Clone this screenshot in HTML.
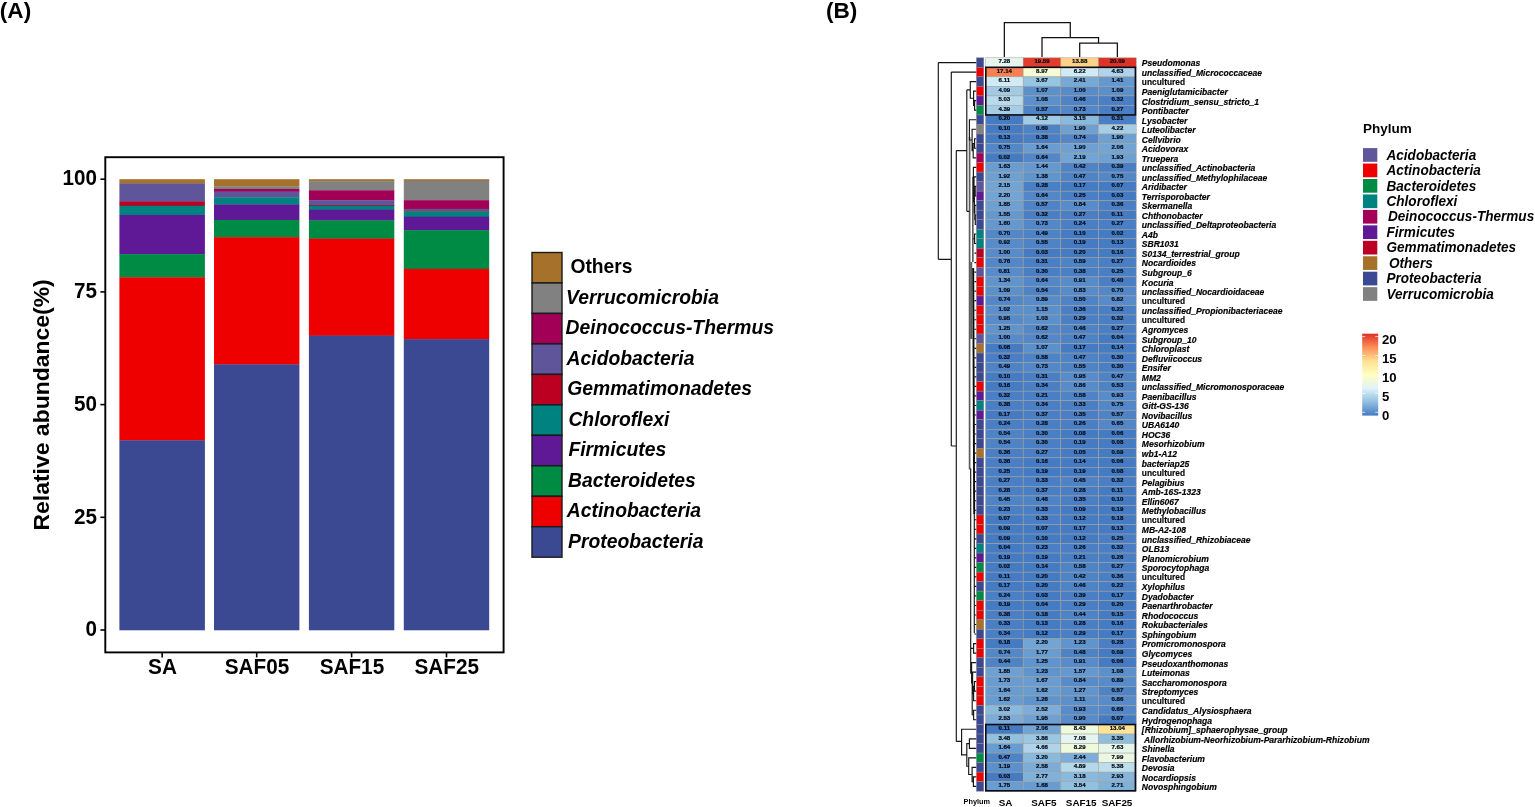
<!DOCTYPE html>
<html lang="en"><head><meta charset="utf-8"><title>Figure</title>
<style>html,body{margin:0;padding:0;background:#fff;}body{width:1535px;height:807px;overflow:hidden;font-family:"Liberation Sans", Arial, Helvetica, sans-serif;}svg{display:block}</style>
</head><body>
<svg width="1535" height="807" viewBox="0 0 1535 807" font-family='"Liberation Sans", Arial, Helvetica, sans-serif' shape-rendering="auto">
<text x="-0.20" y="17.90" font-size="22.6" font-weight="bold" font-style="normal" text-anchor="start" fill="#000" >(A)</text>
<rect x="119.40" y="179.20" width="85.50" height="4.55" fill="#A6712A" />
<rect x="119.40" y="183.45" width="85.50" height="18.35" fill="#5F559B" />
<rect x="119.40" y="201.50" width="85.50" height="4.55" fill="#BB0021" />
<rect x="119.40" y="205.75" width="85.50" height="9.55" fill="#008280" />
<rect x="119.40" y="215.00" width="85.50" height="39.40" fill="#601996" />
<rect x="119.40" y="254.10" width="85.50" height="23.50" fill="#008B45" />
<rect x="119.40" y="277.30" width="85.50" height="163.30" fill="#EE0000" />
<rect x="119.40" y="440.30" width="85.50" height="190.00" fill="#3B4992" />
<rect x="214.00" y="179.20" width="85.40" height="7.50" fill="#A6712A" />
<rect x="214.00" y="186.40" width="85.40" height="2.90" fill="#808180" />
<rect x="214.00" y="189.00" width="85.40" height="2.90" fill="#A20056" />
<rect x="214.00" y="191.60" width="85.40" height="6.10" fill="#5F559B" />
<rect x="214.00" y="197.40" width="85.40" height="7.40" fill="#008280" />
<rect x="214.00" y="204.50" width="85.40" height="15.70" fill="#601996" />
<rect x="214.00" y="219.90" width="85.40" height="17.60" fill="#008B45" />
<rect x="214.00" y="237.20" width="85.40" height="127.50" fill="#EE0000" />
<rect x="214.00" y="364.40" width="85.40" height="265.90" fill="#3B4992" />
<rect x="308.90" y="179.20" width="85.40" height="2.30" fill="#A6712A" />
<rect x="308.90" y="181.20" width="85.40" height="9.40" fill="#808180" />
<rect x="308.90" y="190.30" width="85.40" height="10.20" fill="#A20056" />
<rect x="308.90" y="200.20" width="85.40" height="5.10" fill="#5F559B" />
<rect x="308.90" y="205.00" width="85.40" height="1.05" fill="#BB0021" />
<rect x="308.90" y="205.75" width="85.40" height="4.20" fill="#008280" />
<rect x="308.90" y="209.65" width="85.40" height="11.05" fill="#601996" />
<rect x="308.90" y="220.40" width="85.40" height="18.50" fill="#008B45" />
<rect x="308.90" y="238.60" width="85.40" height="97.30" fill="#EE0000" />
<rect x="308.90" y="335.60" width="85.40" height="294.70" fill="#3B4992" />
<rect x="403.80" y="179.20" width="85.40" height="1.80" fill="#A6712A" />
<rect x="403.80" y="180.70" width="85.40" height="19.80" fill="#808180" />
<rect x="403.80" y="200.20" width="85.40" height="9.00" fill="#A20056" />
<rect x="403.80" y="208.90" width="85.40" height="1.80" fill="#5F559B" />
<rect x="403.80" y="210.40" width="85.40" height="1.00" fill="#BB0021" />
<rect x="403.80" y="211.10" width="85.40" height="5.90" fill="#008280" />
<rect x="403.80" y="216.70" width="85.40" height="13.70" fill="#601996" />
<rect x="403.80" y="230.10" width="85.40" height="39.10" fill="#008B45" />
<rect x="403.80" y="268.90" width="85.40" height="70.50" fill="#EE0000" />
<rect x="403.80" y="339.10" width="85.40" height="291.20" fill="#3B4992" />
<rect x="105.3" y="157.2" width="398.3" height="495.2" fill="none" stroke="#000" stroke-width="1.9"/>
<line x1="100.40" y1="630.00" x2="105.30" y2="630.00" stroke="#000" stroke-width="1.6" />
<text transform="translate(97.00,636.20) scale(0.956,1)" font-size="21.6" font-weight="bold" font-style="normal" text-anchor="end" fill="#000" >0</text>
<line x1="100.40" y1="517.30" x2="105.30" y2="517.30" stroke="#000" stroke-width="1.6" />
<text transform="translate(97.00,523.50) scale(0.956,1)" font-size="21.6" font-weight="bold" font-style="normal" text-anchor="end" fill="#000" >25</text>
<line x1="100.40" y1="404.60" x2="105.30" y2="404.60" stroke="#000" stroke-width="1.6" />
<text transform="translate(97.00,410.80) scale(0.956,1)" font-size="21.6" font-weight="bold" font-style="normal" text-anchor="end" fill="#000" >50</text>
<line x1="100.40" y1="291.90" x2="105.30" y2="291.90" stroke="#000" stroke-width="1.6" />
<text transform="translate(97.00,298.10) scale(0.956,1)" font-size="21.6" font-weight="bold" font-style="normal" text-anchor="end" fill="#000" >75</text>
<line x1="100.40" y1="179.20" x2="105.30" y2="179.20" stroke="#000" stroke-width="1.6" />
<text transform="translate(97.00,185.40) scale(0.956,1)" font-size="21.6" font-weight="bold" font-style="normal" text-anchor="end" fill="#000" >100</text>
<line x1="162.15" y1="652.40" x2="162.15" y2="657.40" stroke="#000" stroke-width="1.6" />
<text transform="translate(162.45,674.40) scale(0.956,1)" font-size="21.7" font-weight="bold" font-style="normal" text-anchor="middle" fill="#000" >SA</text>
<line x1="256.70" y1="652.40" x2="256.70" y2="657.40" stroke="#000" stroke-width="1.6" />
<text transform="translate(257.00,674.40) scale(0.956,1)" font-size="21.7" font-weight="bold" font-style="normal" text-anchor="middle" fill="#000" >SAF05</text>
<line x1="351.60" y1="652.40" x2="351.60" y2="657.40" stroke="#000" stroke-width="1.6" />
<text transform="translate(351.90,674.40) scale(0.956,1)" font-size="21.7" font-weight="bold" font-style="normal" text-anchor="middle" fill="#000" >SAF15</text>
<line x1="446.50" y1="652.40" x2="446.50" y2="657.40" stroke="#000" stroke-width="1.6" />
<text transform="translate(446.80,674.40) scale(0.956,1)" font-size="21.7" font-weight="bold" font-style="normal" text-anchor="middle" fill="#000" >SAF25</text>
<text transform="translate(48.6,404.9) rotate(-90) scale(1.059,1)" font-size="21.7" font-weight="bold" text-anchor="middle" fill="#000">Relative abundance(%)</text>
<rect x="532.0" y="252.50" width="30.0" height="30.47" fill="#A6712A" stroke="#1a1a1a" stroke-width="1.4"/>
<text transform="translate(570.40,273.20) scale(0.945,1)" font-size="20.4" font-weight="bold" font-style="normal" text-anchor="start" fill="#000" >Others</text>
<rect x="532.0" y="282.97" width="30.0" height="30.47" fill="#808180" stroke="#1a1a1a" stroke-width="1.4"/>
<text transform="translate(566.00,303.87) scale(0.962,1)" font-size="20.1" font-weight="bold" font-style="italic" text-anchor="start" fill="#000" >Verrucomicrobia</text>
<rect x="532.0" y="313.44" width="30.0" height="30.47" fill="#A20056" stroke="#1a1a1a" stroke-width="1.4"/>
<text transform="translate(565.60,334.34) scale(0.962,1)" font-size="20.1" font-weight="bold" font-style="italic" text-anchor="start" fill="#000" >Deinococcus-Thermus</text>
<rect x="532.0" y="343.91" width="30.0" height="30.47" fill="#5F559B" stroke="#1a1a1a" stroke-width="1.4"/>
<text transform="translate(566.60,364.81) scale(0.962,1)" font-size="20.1" font-weight="bold" font-style="italic" text-anchor="start" fill="#000" >Acidobacteria</text>
<rect x="532.0" y="374.38" width="30.0" height="30.47" fill="#BB0021" stroke="#1a1a1a" stroke-width="1.4"/>
<text transform="translate(567.20,395.28) scale(0.962,1)" font-size="20.1" font-weight="bold" font-style="italic" text-anchor="start" fill="#000" >Gemmatimonadetes</text>
<rect x="532.0" y="404.85" width="30.0" height="30.47" fill="#008280" stroke="#1a1a1a" stroke-width="1.4"/>
<text transform="translate(568.40,425.75) scale(0.962,1)" font-size="20.1" font-weight="bold" font-style="italic" text-anchor="start" fill="#000" >Chloroflexi</text>
<rect x="532.0" y="435.32" width="30.0" height="30.47" fill="#601996" stroke="#1a1a1a" stroke-width="1.4"/>
<text transform="translate(568.40,456.22) scale(0.962,1)" font-size="20.1" font-weight="bold" font-style="italic" text-anchor="start" fill="#000" >Firmicutes</text>
<rect x="532.0" y="465.79" width="30.0" height="30.47" fill="#008B45" stroke="#1a1a1a" stroke-width="1.4"/>
<text transform="translate(568.00,486.69) scale(0.962,1)" font-size="20.1" font-weight="bold" font-style="italic" text-anchor="start" fill="#000" >Bacteroidetes</text>
<rect x="532.0" y="496.26" width="30.0" height="30.47" fill="#EE0000" stroke="#1a1a1a" stroke-width="1.4"/>
<text transform="translate(566.80,517.16) scale(0.962,1)" font-size="20.1" font-weight="bold" font-style="italic" text-anchor="start" fill="#000" >Actinobacteria</text>
<rect x="532.0" y="526.73" width="30.0" height="30.47" fill="#3B4992" stroke="#1a1a1a" stroke-width="1.4"/>
<text transform="translate(568.00,547.63) scale(0.962,1)" font-size="20.1" font-weight="bold" font-style="italic" text-anchor="start" fill="#000" >Proteobacteria</text>
<text x="825.90" y="17.90" font-size="22.6" font-weight="bold" font-style="normal" text-anchor="start" fill="#000" >(B)</text>
<rect x="976.40" y="57.80" width="7.40" height="9.52" fill="#3B4992" stroke="#8c8c98" stroke-width="0.5"/>
<rect x="985.50" y="57.80" width="37.68" height="9.52" fill="#E6F5EE" stroke="#a6a096" stroke-width="0.5"/>
<rect x="1023.17" y="57.80" width="37.68" height="9.52" fill="#E23C2D" stroke="#a6a096" stroke-width="0.5"/>
<rect x="1060.85" y="57.80" width="37.68" height="9.52" fill="#FED186" stroke="#a6a096" stroke-width="0.5"/>
<rect x="1098.53" y="57.80" width="37.68" height="9.52" fill="#DE3127" stroke="#a6a096" stroke-width="0.5"/>
<text x="1004.34" y="63.26" font-size="6.1" font-weight="bold" font-style="normal" text-anchor="middle" fill="#040c18" stroke="#040c18" stroke-width="0.22">7.28</text>
<text x="1042.01" y="63.26" font-size="6.1" font-weight="bold" font-style="normal" text-anchor="middle" fill="#040c18" stroke="#040c18" stroke-width="0.22">19.59</text>
<text x="1079.69" y="63.26" font-size="6.1" font-weight="bold" font-style="normal" text-anchor="middle" fill="#040c18" stroke="#040c18" stroke-width="0.22">13.88</text>
<text x="1117.36" y="63.26" font-size="6.1" font-weight="bold" font-style="normal" text-anchor="middle" fill="#040c18" stroke="#040c18" stroke-width="0.22">20.09</text>
<text x="1141.80" y="66.46" font-size="8.55" font-weight="bold" font-style="italic" text-anchor="start" fill="#000" stroke="#000" stroke-width="0.18">Pseudomonas</text>
<rect x="976.40" y="67.32" width="7.40" height="9.52" fill="#EE0000" stroke="#8c8c98" stroke-width="0.5"/>
<rect x="985.50" y="67.32" width="37.68" height="9.52" fill="#F77F51" stroke="#a6a096" stroke-width="0.5"/>
<rect x="1023.17" y="67.32" width="37.68" height="9.52" fill="#F5FBD2" stroke="#a6a096" stroke-width="0.5"/>
<rect x="1060.85" y="67.32" width="37.68" height="9.52" fill="#D1EAF3" stroke="#a6a096" stroke-width="0.5"/>
<rect x="1098.53" y="67.32" width="37.68" height="9.52" fill="#B0D3E9" stroke="#a6a096" stroke-width="0.5"/>
<text x="1004.34" y="72.79" font-size="6.1" font-weight="bold" font-style="normal" text-anchor="middle" fill="#040c18" stroke="#040c18" stroke-width="0.22">17.14</text>
<text x="1042.01" y="72.79" font-size="6.1" font-weight="bold" font-style="normal" text-anchor="middle" fill="#040c18" stroke="#040c18" stroke-width="0.22">8.97</text>
<text x="1079.69" y="72.79" font-size="6.1" font-weight="bold" font-style="normal" text-anchor="middle" fill="#040c18" stroke="#040c18" stroke-width="0.22">6.22</text>
<text x="1117.36" y="72.79" font-size="6.1" font-weight="bold" font-style="normal" text-anchor="middle" fill="#040c18" stroke="#040c18" stroke-width="0.22">4.63</text>
<text x="1141.80" y="75.99" font-size="8.55" font-weight="bold" font-style="italic" text-anchor="start" fill="#000" stroke="#000" stroke-width="0.18">unclassified_Micrococcaceae</text>
<rect x="976.40" y="76.85" width="7.40" height="9.52" fill="#3B4992" stroke="#8c8c98" stroke-width="0.5"/>
<rect x="985.50" y="76.85" width="37.68" height="9.52" fill="#D1EAF3" stroke="#a6a096" stroke-width="0.5"/>
<rect x="1023.17" y="76.85" width="37.68" height="9.52" fill="#97C4E1" stroke="#a6a096" stroke-width="0.5"/>
<rect x="1060.85" y="76.85" width="37.68" height="9.52" fill="#77A8D6" stroke="#a6a096" stroke-width="0.5"/>
<rect x="1098.53" y="76.85" width="37.68" height="9.52" fill="#6598CF" stroke="#a6a096" stroke-width="0.5"/>
<text x="1004.34" y="82.31" font-size="6.1" font-weight="bold" font-style="normal" text-anchor="middle" fill="#040c18" stroke="#040c18" stroke-width="0.22">6.11</text>
<text x="1042.01" y="82.31" font-size="6.1" font-weight="bold" font-style="normal" text-anchor="middle" fill="#040c18" stroke="#040c18" stroke-width="0.22">3.67</text>
<text x="1079.69" y="82.31" font-size="6.1" font-weight="bold" font-style="normal" text-anchor="middle" fill="#040c18" stroke="#040c18" stroke-width="0.22">2.41</text>
<text x="1117.36" y="82.31" font-size="6.1" font-weight="bold" font-style="normal" text-anchor="middle" fill="#040c18" stroke="#040c18" stroke-width="0.22">1.41</text>
<text x="1141.80" y="85.21" font-size="8.4" font-weight="bold" font-style="normal" text-anchor="start" fill="#000" stroke="#000" stroke-width="0.12">uncultured</text>
<rect x="976.40" y="86.37" width="7.40" height="9.52" fill="#EE0000" stroke="#8c8c98" stroke-width="0.5"/>
<rect x="985.50" y="86.37" width="37.68" height="9.52" fill="#A1CAE4" stroke="#a6a096" stroke-width="0.5"/>
<rect x="1023.17" y="86.37" width="37.68" height="9.52" fill="#5C90CB" stroke="#a6a096" stroke-width="0.5"/>
<rect x="1060.85" y="86.37" width="37.68" height="9.52" fill="#578BCA" stroke="#a6a096" stroke-width="0.5"/>
<rect x="1098.53" y="86.37" width="37.68" height="9.52" fill="#5C90CB" stroke="#a6a096" stroke-width="0.5"/>
<text x="1004.34" y="91.84" font-size="6.1" font-weight="bold" font-style="normal" text-anchor="middle" fill="#040c18" stroke="#040c18" stroke-width="0.22">4.09</text>
<text x="1042.01" y="91.84" font-size="6.1" font-weight="bold" font-style="normal" text-anchor="middle" fill="#040c18" stroke="#040c18" stroke-width="0.22">1.07</text>
<text x="1079.69" y="91.84" font-size="6.1" font-weight="bold" font-style="normal" text-anchor="middle" fill="#040c18" stroke="#040c18" stroke-width="0.22">1.00</text>
<text x="1117.36" y="91.84" font-size="6.1" font-weight="bold" font-style="normal" text-anchor="middle" fill="#040c18" stroke="#040c18" stroke-width="0.22">1.09</text>
<text x="1141.80" y="95.04" font-size="8.55" font-weight="bold" font-style="italic" text-anchor="start" fill="#000" stroke="#000" stroke-width="0.18">Paeniglutamicibacter</text>
<rect x="976.40" y="95.90" width="7.40" height="9.52" fill="#601996" stroke="#8c8c98" stroke-width="0.5"/>
<rect x="985.50" y="95.90" width="37.68" height="9.52" fill="#B9DAEC" stroke="#a6a096" stroke-width="0.5"/>
<rect x="1023.17" y="95.90" width="37.68" height="9.52" fill="#5C90CB" stroke="#a6a096" stroke-width="0.5"/>
<rect x="1060.85" y="95.90" width="37.68" height="9.52" fill="#4E83C6" stroke="#a6a096" stroke-width="0.5"/>
<rect x="1098.53" y="95.90" width="37.68" height="9.52" fill="#4A7FC5" stroke="#a6a096" stroke-width="0.5"/>
<text x="1004.34" y="101.36" font-size="6.1" font-weight="bold" font-style="normal" text-anchor="middle" fill="#040c18" stroke="#040c18" stroke-width="0.22">5.03</text>
<text x="1042.01" y="101.36" font-size="6.1" font-weight="bold" font-style="normal" text-anchor="middle" fill="#040c18" stroke="#040c18" stroke-width="0.22">1.08</text>
<text x="1079.69" y="101.36" font-size="6.1" font-weight="bold" font-style="normal" text-anchor="middle" fill="#040c18" stroke="#040c18" stroke-width="0.22">0.46</text>
<text x="1117.36" y="101.36" font-size="6.1" font-weight="bold" font-style="normal" text-anchor="middle" fill="#040c18" stroke="#040c18" stroke-width="0.22">0.32</text>
<text x="1141.80" y="104.56" font-size="8.55" font-weight="bold" font-style="italic" text-anchor="start" fill="#000" stroke="#000" stroke-width="0.18">Clostridium_sensu_stricto_1</text>
<rect x="976.40" y="105.42" width="7.40" height="9.52" fill="#008B45" stroke="#8c8c98" stroke-width="0.5"/>
<rect x="985.50" y="105.42" width="37.68" height="9.52" fill="#A6CDE6" stroke="#a6a096" stroke-width="0.5"/>
<rect x="1023.17" y="105.42" width="37.68" height="9.52" fill="#4E83C6" stroke="#a6a096" stroke-width="0.5"/>
<rect x="1060.85" y="105.42" width="37.68" height="9.52" fill="#5387C8" stroke="#a6a096" stroke-width="0.5"/>
<rect x="1098.53" y="105.42" width="37.68" height="9.52" fill="#4A7FC5" stroke="#a6a096" stroke-width="0.5"/>
<text x="1004.34" y="110.89" font-size="6.1" font-weight="bold" font-style="normal" text-anchor="middle" fill="#040c18" stroke="#040c18" stroke-width="0.22">4.39</text>
<text x="1042.01" y="110.89" font-size="6.1" font-weight="bold" font-style="normal" text-anchor="middle" fill="#040c18" stroke="#040c18" stroke-width="0.22">0.57</text>
<text x="1079.69" y="110.89" font-size="6.1" font-weight="bold" font-style="normal" text-anchor="middle" fill="#040c18" stroke="#040c18" stroke-width="0.22">0.73</text>
<text x="1117.36" y="110.89" font-size="6.1" font-weight="bold" font-style="normal" text-anchor="middle" fill="#040c18" stroke="#040c18" stroke-width="0.22">0.27</text>
<text x="1141.80" y="114.09" font-size="8.55" font-weight="bold" font-style="italic" text-anchor="start" fill="#000" stroke="#000" stroke-width="0.18">Pontibacter</text>
<rect x="976.40" y="114.95" width="7.40" height="9.52" fill="#3B4992" stroke="#8c8c98" stroke-width="0.5"/>
<rect x="985.50" y="114.95" width="37.68" height="9.52" fill="#457BC3" stroke="#a6a096" stroke-width="0.5"/>
<rect x="1023.17" y="114.95" width="37.68" height="9.52" fill="#A1CAE4" stroke="#a6a096" stroke-width="0.5"/>
<rect x="1060.85" y="114.95" width="37.68" height="9.52" fill="#89B9DC" stroke="#a6a096" stroke-width="0.5"/>
<rect x="1098.53" y="114.95" width="37.68" height="9.52" fill="#4A7FC5" stroke="#a6a096" stroke-width="0.5"/>
<text x="1004.34" y="120.41" font-size="6.1" font-weight="bold" font-style="normal" text-anchor="middle" fill="#040c18" stroke="#040c18" stroke-width="0.22">0.20</text>
<text x="1042.01" y="120.41" font-size="6.1" font-weight="bold" font-style="normal" text-anchor="middle" fill="#040c18" stroke="#040c18" stroke-width="0.22">4.12</text>
<text x="1079.69" y="120.41" font-size="6.1" font-weight="bold" font-style="normal" text-anchor="middle" fill="#040c18" stroke="#040c18" stroke-width="0.22">3.15</text>
<text x="1117.36" y="120.41" font-size="6.1" font-weight="bold" font-style="normal" text-anchor="middle" fill="#040c18" stroke="#040c18" stroke-width="0.22">0.31</text>
<text x="1141.80" y="123.61" font-size="8.55" font-weight="bold" font-style="italic" text-anchor="start" fill="#000" stroke="#000" stroke-width="0.18">Lysobacter</text>
<rect x="976.40" y="124.47" width="7.40" height="9.52" fill="#808180" stroke="#8c8c98" stroke-width="0.5"/>
<rect x="985.50" y="124.47" width="37.68" height="9.52" fill="#457BC3" stroke="#a6a096" stroke-width="0.5"/>
<rect x="1023.17" y="124.47" width="37.68" height="9.52" fill="#4E83C6" stroke="#a6a096" stroke-width="0.5"/>
<rect x="1060.85" y="124.47" width="37.68" height="9.52" fill="#6EA0D2" stroke="#a6a096" stroke-width="0.5"/>
<rect x="1098.53" y="124.47" width="37.68" height="9.52" fill="#A6CDE6" stroke="#a6a096" stroke-width="0.5"/>
<text x="1004.34" y="129.94" font-size="6.1" font-weight="bold" font-style="normal" text-anchor="middle" fill="#040c18" stroke="#040c18" stroke-width="0.22">0.10</text>
<text x="1042.01" y="129.94" font-size="6.1" font-weight="bold" font-style="normal" text-anchor="middle" fill="#040c18" stroke="#040c18" stroke-width="0.22">0.60</text>
<text x="1079.69" y="129.94" font-size="6.1" font-weight="bold" font-style="normal" text-anchor="middle" fill="#040c18" stroke="#040c18" stroke-width="0.22">1.90</text>
<text x="1117.36" y="129.94" font-size="6.1" font-weight="bold" font-style="normal" text-anchor="middle" fill="#040c18" stroke="#040c18" stroke-width="0.22">4.22</text>
<text x="1141.80" y="133.14" font-size="8.55" font-weight="bold" font-style="italic" text-anchor="start" fill="#000" stroke="#000" stroke-width="0.18">Luteolibacter</text>
<rect x="976.40" y="134.00" width="7.40" height="9.52" fill="#3B4992" stroke="#8c8c98" stroke-width="0.5"/>
<rect x="985.50" y="134.00" width="37.68" height="9.52" fill="#457BC3" stroke="#a6a096" stroke-width="0.5"/>
<rect x="1023.17" y="134.00" width="37.68" height="9.52" fill="#4A7FC5" stroke="#a6a096" stroke-width="0.5"/>
<rect x="1060.85" y="134.00" width="37.68" height="9.52" fill="#5387C8" stroke="#a6a096" stroke-width="0.5"/>
<rect x="1098.53" y="134.00" width="37.68" height="9.52" fill="#6EA0D2" stroke="#a6a096" stroke-width="0.5"/>
<text x="1004.34" y="139.46" font-size="6.1" font-weight="bold" font-style="normal" text-anchor="middle" fill="#040c18" stroke="#040c18" stroke-width="0.22">0.13</text>
<text x="1042.01" y="139.46" font-size="6.1" font-weight="bold" font-style="normal" text-anchor="middle" fill="#040c18" stroke="#040c18" stroke-width="0.22">0.38</text>
<text x="1079.69" y="139.46" font-size="6.1" font-weight="bold" font-style="normal" text-anchor="middle" fill="#040c18" stroke="#040c18" stroke-width="0.22">0.74</text>
<text x="1117.36" y="139.46" font-size="6.1" font-weight="bold" font-style="normal" text-anchor="middle" fill="#040c18" stroke="#040c18" stroke-width="0.22">1.90</text>
<text x="1141.80" y="142.66" font-size="8.55" font-weight="bold" font-style="italic" text-anchor="start" fill="#000" stroke="#000" stroke-width="0.18">Cellvibrio</text>
<rect x="976.40" y="143.52" width="7.40" height="9.52" fill="#3B4992" stroke="#8c8c98" stroke-width="0.5"/>
<rect x="985.50" y="143.52" width="37.68" height="9.52" fill="#5387C8" stroke="#a6a096" stroke-width="0.5"/>
<rect x="1023.17" y="143.52" width="37.68" height="9.52" fill="#699CD1" stroke="#a6a096" stroke-width="0.5"/>
<rect x="1060.85" y="143.52" width="37.68" height="9.52" fill="#6EA0D2" stroke="#a6a096" stroke-width="0.5"/>
<rect x="1098.53" y="143.52" width="37.68" height="9.52" fill="#72A4D4" stroke="#a6a096" stroke-width="0.5"/>
<text x="1004.34" y="148.98" font-size="6.1" font-weight="bold" font-style="normal" text-anchor="middle" fill="#040c18" stroke="#040c18" stroke-width="0.22">0.75</text>
<text x="1042.01" y="148.98" font-size="6.1" font-weight="bold" font-style="normal" text-anchor="middle" fill="#040c18" stroke="#040c18" stroke-width="0.22">1.64</text>
<text x="1079.69" y="148.98" font-size="6.1" font-weight="bold" font-style="normal" text-anchor="middle" fill="#040c18" stroke="#040c18" stroke-width="0.22">1.90</text>
<text x="1117.36" y="148.98" font-size="6.1" font-weight="bold" font-style="normal" text-anchor="middle" fill="#040c18" stroke="#040c18" stroke-width="0.22">2.06</text>
<text x="1141.80" y="152.18" font-size="8.55" font-weight="bold" font-style="italic" text-anchor="start" fill="#000" stroke="#000" stroke-width="0.18">Acidovorax</text>
<rect x="976.40" y="153.05" width="7.40" height="9.52" fill="#A20056" stroke="#8c8c98" stroke-width="0.5"/>
<rect x="985.50" y="153.05" width="37.68" height="9.52" fill="#457BC3" stroke="#a6a096" stroke-width="0.5"/>
<rect x="1023.17" y="153.05" width="37.68" height="9.52" fill="#5387C8" stroke="#a6a096" stroke-width="0.5"/>
<rect x="1060.85" y="153.05" width="37.68" height="9.52" fill="#72A4D4" stroke="#a6a096" stroke-width="0.5"/>
<rect x="1098.53" y="153.05" width="37.68" height="9.52" fill="#6EA0D2" stroke="#a6a096" stroke-width="0.5"/>
<text x="1004.34" y="158.51" font-size="6.1" font-weight="bold" font-style="normal" text-anchor="middle" fill="#040c18" stroke="#040c18" stroke-width="0.22">0.02</text>
<text x="1042.01" y="158.51" font-size="6.1" font-weight="bold" font-style="normal" text-anchor="middle" fill="#040c18" stroke="#040c18" stroke-width="0.22">0.64</text>
<text x="1079.69" y="158.51" font-size="6.1" font-weight="bold" font-style="normal" text-anchor="middle" fill="#040c18" stroke="#040c18" stroke-width="0.22">2.19</text>
<text x="1117.36" y="158.51" font-size="6.1" font-weight="bold" font-style="normal" text-anchor="middle" fill="#040c18" stroke="#040c18" stroke-width="0.22">1.93</text>
<text x="1141.80" y="161.71" font-size="8.55" font-weight="bold" font-style="italic" text-anchor="start" fill="#000" stroke="#000" stroke-width="0.18">Truepera</text>
<rect x="976.40" y="162.57" width="7.40" height="9.52" fill="#EE0000" stroke="#8c8c98" stroke-width="0.5"/>
<rect x="985.50" y="162.57" width="37.68" height="9.52" fill="#699CD1" stroke="#a6a096" stroke-width="0.5"/>
<rect x="1023.17" y="162.57" width="37.68" height="9.52" fill="#6598CF" stroke="#a6a096" stroke-width="0.5"/>
<rect x="1060.85" y="162.57" width="37.68" height="9.52" fill="#4E83C6" stroke="#a6a096" stroke-width="0.5"/>
<rect x="1098.53" y="162.57" width="37.68" height="9.52" fill="#4A7FC5" stroke="#a6a096" stroke-width="0.5"/>
<text x="1004.34" y="168.03" font-size="6.1" font-weight="bold" font-style="normal" text-anchor="middle" fill="#040c18" stroke="#040c18" stroke-width="0.22">1.63</text>
<text x="1042.01" y="168.03" font-size="6.1" font-weight="bold" font-style="normal" text-anchor="middle" fill="#040c18" stroke="#040c18" stroke-width="0.22">1.44</text>
<text x="1079.69" y="168.03" font-size="6.1" font-weight="bold" font-style="normal" text-anchor="middle" fill="#040c18" stroke="#040c18" stroke-width="0.22">0.42</text>
<text x="1117.36" y="168.03" font-size="6.1" font-weight="bold" font-style="normal" text-anchor="middle" fill="#040c18" stroke="#040c18" stroke-width="0.22">0.39</text>
<text x="1141.80" y="171.23" font-size="8.55" font-weight="bold" font-style="italic" text-anchor="start" fill="#000" stroke="#000" stroke-width="0.18">unclassified_Actinobacteria</text>
<rect x="976.40" y="172.10" width="7.40" height="9.52" fill="#3B4992" stroke="#8c8c98" stroke-width="0.5"/>
<rect x="985.50" y="172.10" width="37.68" height="9.52" fill="#6EA0D2" stroke="#a6a096" stroke-width="0.5"/>
<rect x="1023.17" y="172.10" width="37.68" height="9.52" fill="#6094CD" stroke="#a6a096" stroke-width="0.5"/>
<rect x="1060.85" y="172.10" width="37.68" height="9.52" fill="#4E83C6" stroke="#a6a096" stroke-width="0.5"/>
<rect x="1098.53" y="172.10" width="37.68" height="9.52" fill="#5387C8" stroke="#a6a096" stroke-width="0.5"/>
<text x="1004.34" y="177.56" font-size="6.1" font-weight="bold" font-style="normal" text-anchor="middle" fill="#040c18" stroke="#040c18" stroke-width="0.22">1.92</text>
<text x="1042.01" y="177.56" font-size="6.1" font-weight="bold" font-style="normal" text-anchor="middle" fill="#040c18" stroke="#040c18" stroke-width="0.22">1.38</text>
<text x="1079.69" y="177.56" font-size="6.1" font-weight="bold" font-style="normal" text-anchor="middle" fill="#040c18" stroke="#040c18" stroke-width="0.22">0.47</text>
<text x="1117.36" y="177.56" font-size="6.1" font-weight="bold" font-style="normal" text-anchor="middle" fill="#040c18" stroke="#040c18" stroke-width="0.22">0.75</text>
<text x="1141.80" y="180.76" font-size="8.55" font-weight="bold" font-style="italic" text-anchor="start" fill="#000" stroke="#000" stroke-width="0.18">unclassified_Methylophilaceae</text>
<rect x="976.40" y="181.62" width="7.40" height="9.52" fill="#5F559B" stroke="#8c8c98" stroke-width="0.5"/>
<rect x="985.50" y="181.62" width="37.68" height="9.52" fill="#72A4D4" stroke="#a6a096" stroke-width="0.5"/>
<rect x="1023.17" y="181.62" width="37.68" height="9.52" fill="#4A7FC5" stroke="#a6a096" stroke-width="0.5"/>
<rect x="1060.85" y="181.62" width="37.68" height="9.52" fill="#457BC3" stroke="#a6a096" stroke-width="0.5"/>
<rect x="1098.53" y="181.62" width="37.68" height="9.52" fill="#457BC3" stroke="#a6a096" stroke-width="0.5"/>
<text x="1004.34" y="187.08" font-size="6.1" font-weight="bold" font-style="normal" text-anchor="middle" fill="#040c18" stroke="#040c18" stroke-width="0.22">2.15</text>
<text x="1042.01" y="187.08" font-size="6.1" font-weight="bold" font-style="normal" text-anchor="middle" fill="#040c18" stroke="#040c18" stroke-width="0.22">0.28</text>
<text x="1079.69" y="187.08" font-size="6.1" font-weight="bold" font-style="normal" text-anchor="middle" fill="#040c18" stroke="#040c18" stroke-width="0.22">0.17</text>
<text x="1117.36" y="187.08" font-size="6.1" font-weight="bold" font-style="normal" text-anchor="middle" fill="#040c18" stroke="#040c18" stroke-width="0.22">0.07</text>
<text x="1141.80" y="190.28" font-size="8.55" font-weight="bold" font-style="italic" text-anchor="start" fill="#000" stroke="#000" stroke-width="0.18">Aridibacter</text>
<rect x="976.40" y="191.15" width="7.40" height="9.52" fill="#601996" stroke="#8c8c98" stroke-width="0.5"/>
<rect x="985.50" y="191.15" width="37.68" height="9.52" fill="#72A4D4" stroke="#a6a096" stroke-width="0.5"/>
<rect x="1023.17" y="191.15" width="37.68" height="9.52" fill="#5387C8" stroke="#a6a096" stroke-width="0.5"/>
<rect x="1060.85" y="191.15" width="37.68" height="9.52" fill="#4A7FC5" stroke="#a6a096" stroke-width="0.5"/>
<rect x="1098.53" y="191.15" width="37.68" height="9.52" fill="#457BC3" stroke="#a6a096" stroke-width="0.5"/>
<text x="1004.34" y="196.61" font-size="6.1" font-weight="bold" font-style="normal" text-anchor="middle" fill="#040c18" stroke="#040c18" stroke-width="0.22">2.20</text>
<text x="1042.01" y="196.61" font-size="6.1" font-weight="bold" font-style="normal" text-anchor="middle" fill="#040c18" stroke="#040c18" stroke-width="0.22">0.64</text>
<text x="1079.69" y="196.61" font-size="6.1" font-weight="bold" font-style="normal" text-anchor="middle" fill="#040c18" stroke="#040c18" stroke-width="0.22">0.25</text>
<text x="1117.36" y="196.61" font-size="6.1" font-weight="bold" font-style="normal" text-anchor="middle" fill="#040c18" stroke="#040c18" stroke-width="0.22">0.03</text>
<text x="1141.80" y="199.81" font-size="8.55" font-weight="bold" font-style="italic" text-anchor="start" fill="#000" stroke="#000" stroke-width="0.18">Terrisporobacter</text>
<rect x="976.40" y="200.67" width="7.40" height="9.52" fill="#3B4992" stroke="#8c8c98" stroke-width="0.5"/>
<rect x="985.50" y="200.67" width="37.68" height="9.52" fill="#6EA0D2" stroke="#a6a096" stroke-width="0.5"/>
<rect x="1023.17" y="200.67" width="37.68" height="9.52" fill="#4E83C6" stroke="#a6a096" stroke-width="0.5"/>
<rect x="1060.85" y="200.67" width="37.68" height="9.52" fill="#578BCA" stroke="#a6a096" stroke-width="0.5"/>
<rect x="1098.53" y="200.67" width="37.68" height="9.52" fill="#4A7FC5" stroke="#a6a096" stroke-width="0.5"/>
<text x="1004.34" y="206.13" font-size="6.1" font-weight="bold" font-style="normal" text-anchor="middle" fill="#040c18" stroke="#040c18" stroke-width="0.22">1.85</text>
<text x="1042.01" y="206.13" font-size="6.1" font-weight="bold" font-style="normal" text-anchor="middle" fill="#040c18" stroke="#040c18" stroke-width="0.22">0.57</text>
<text x="1079.69" y="206.13" font-size="6.1" font-weight="bold" font-style="normal" text-anchor="middle" fill="#040c18" stroke="#040c18" stroke-width="0.22">0.84</text>
<text x="1117.36" y="206.13" font-size="6.1" font-weight="bold" font-style="normal" text-anchor="middle" fill="#040c18" stroke="#040c18" stroke-width="0.22">0.36</text>
<text x="1141.80" y="209.33" font-size="8.55" font-weight="bold" font-style="italic" text-anchor="start" fill="#000" stroke="#000" stroke-width="0.18">Skermanella</text>
<rect x="976.40" y="210.19" width="7.40" height="9.52" fill="#3B4992" stroke="#8c8c98" stroke-width="0.5"/>
<rect x="985.50" y="210.19" width="37.68" height="9.52" fill="#6598CF" stroke="#a6a096" stroke-width="0.5"/>
<rect x="1023.17" y="210.19" width="37.68" height="9.52" fill="#4A7FC5" stroke="#a6a096" stroke-width="0.5"/>
<rect x="1060.85" y="210.19" width="37.68" height="9.52" fill="#4A7FC5" stroke="#a6a096" stroke-width="0.5"/>
<rect x="1098.53" y="210.19" width="37.68" height="9.52" fill="#457BC3" stroke="#a6a096" stroke-width="0.5"/>
<text x="1004.34" y="215.66" font-size="6.1" font-weight="bold" font-style="normal" text-anchor="middle" fill="#040c18" stroke="#040c18" stroke-width="0.22">1.55</text>
<text x="1042.01" y="215.66" font-size="6.1" font-weight="bold" font-style="normal" text-anchor="middle" fill="#040c18" stroke="#040c18" stroke-width="0.22">0.32</text>
<text x="1079.69" y="215.66" font-size="6.1" font-weight="bold" font-style="normal" text-anchor="middle" fill="#040c18" stroke="#040c18" stroke-width="0.22">0.27</text>
<text x="1117.36" y="215.66" font-size="6.1" font-weight="bold" font-style="normal" text-anchor="middle" fill="#040c18" stroke="#040c18" stroke-width="0.22">0.11</text>
<text x="1141.80" y="218.86" font-size="8.55" font-weight="bold" font-style="italic" text-anchor="start" fill="#000" stroke="#000" stroke-width="0.18">Chthonobacter</text>
<rect x="976.40" y="219.72" width="7.40" height="9.52" fill="#3B4992" stroke="#8c8c98" stroke-width="0.5"/>
<rect x="985.50" y="219.72" width="37.68" height="9.52" fill="#6598CF" stroke="#a6a096" stroke-width="0.5"/>
<rect x="1023.17" y="219.72" width="37.68" height="9.52" fill="#5387C8" stroke="#a6a096" stroke-width="0.5"/>
<rect x="1060.85" y="219.72" width="37.68" height="9.52" fill="#4A7FC5" stroke="#a6a096" stroke-width="0.5"/>
<rect x="1098.53" y="219.72" width="37.68" height="9.52" fill="#4A7FC5" stroke="#a6a096" stroke-width="0.5"/>
<text x="1004.34" y="225.18" font-size="6.1" font-weight="bold" font-style="normal" text-anchor="middle" fill="#040c18" stroke="#040c18" stroke-width="0.22">1.60</text>
<text x="1042.01" y="225.18" font-size="6.1" font-weight="bold" font-style="normal" text-anchor="middle" fill="#040c18" stroke="#040c18" stroke-width="0.22">0.73</text>
<text x="1079.69" y="225.18" font-size="6.1" font-weight="bold" font-style="normal" text-anchor="middle" fill="#040c18" stroke="#040c18" stroke-width="0.22">0.24</text>
<text x="1117.36" y="225.18" font-size="6.1" font-weight="bold" font-style="normal" text-anchor="middle" fill="#040c18" stroke="#040c18" stroke-width="0.22">0.27</text>
<text x="1141.80" y="228.38" font-size="8.55" font-weight="bold" font-style="italic" text-anchor="start" fill="#000" stroke="#000" stroke-width="0.18">unclassified_Deltaproteobacteria</text>
<rect x="976.40" y="229.24" width="7.40" height="9.52" fill="#008280" stroke="#8c8c98" stroke-width="0.5"/>
<rect x="985.50" y="229.24" width="37.68" height="9.52" fill="#5387C8" stroke="#a6a096" stroke-width="0.5"/>
<rect x="1023.17" y="229.24" width="37.68" height="9.52" fill="#4E83C6" stroke="#a6a096" stroke-width="0.5"/>
<rect x="1060.85" y="229.24" width="37.68" height="9.52" fill="#457BC3" stroke="#a6a096" stroke-width="0.5"/>
<rect x="1098.53" y="229.24" width="37.68" height="9.52" fill="#457BC3" stroke="#a6a096" stroke-width="0.5"/>
<text x="1004.34" y="234.71" font-size="6.1" font-weight="bold" font-style="normal" text-anchor="middle" fill="#040c18" stroke="#040c18" stroke-width="0.22">0.70</text>
<text x="1042.01" y="234.71" font-size="6.1" font-weight="bold" font-style="normal" text-anchor="middle" fill="#040c18" stroke="#040c18" stroke-width="0.22">0.49</text>
<text x="1079.69" y="234.71" font-size="6.1" font-weight="bold" font-style="normal" text-anchor="middle" fill="#040c18" stroke="#040c18" stroke-width="0.22">0.10</text>
<text x="1117.36" y="234.71" font-size="6.1" font-weight="bold" font-style="normal" text-anchor="middle" fill="#040c18" stroke="#040c18" stroke-width="0.22">0.02</text>
<text x="1141.80" y="237.91" font-size="8.55" font-weight="bold" font-style="italic" text-anchor="start" fill="#000" stroke="#000" stroke-width="0.18">A4b</text>
<rect x="976.40" y="238.77" width="7.40" height="9.52" fill="#008280" stroke="#8c8c98" stroke-width="0.5"/>
<rect x="985.50" y="238.77" width="37.68" height="9.52" fill="#578BCA" stroke="#a6a096" stroke-width="0.5"/>
<rect x="1023.17" y="238.77" width="37.68" height="9.52" fill="#4E83C6" stroke="#a6a096" stroke-width="0.5"/>
<rect x="1060.85" y="238.77" width="37.68" height="9.52" fill="#457BC3" stroke="#a6a096" stroke-width="0.5"/>
<rect x="1098.53" y="238.77" width="37.68" height="9.52" fill="#457BC3" stroke="#a6a096" stroke-width="0.5"/>
<text x="1004.34" y="244.23" font-size="6.1" font-weight="bold" font-style="normal" text-anchor="middle" fill="#040c18" stroke="#040c18" stroke-width="0.22">0.92</text>
<text x="1042.01" y="244.23" font-size="6.1" font-weight="bold" font-style="normal" text-anchor="middle" fill="#040c18" stroke="#040c18" stroke-width="0.22">0.55</text>
<text x="1079.69" y="244.23" font-size="6.1" font-weight="bold" font-style="normal" text-anchor="middle" fill="#040c18" stroke="#040c18" stroke-width="0.22">0.19</text>
<text x="1117.36" y="244.23" font-size="6.1" font-weight="bold" font-style="normal" text-anchor="middle" fill="#040c18" stroke="#040c18" stroke-width="0.22">0.13</text>
<text x="1141.80" y="247.43" font-size="8.55" font-weight="bold" font-style="italic" text-anchor="start" fill="#000" stroke="#000" stroke-width="0.18">SBR1031</text>
<rect x="976.40" y="248.29" width="7.40" height="9.52" fill="#BB0021" stroke="#8c8c98" stroke-width="0.5"/>
<rect x="985.50" y="248.29" width="37.68" height="9.52" fill="#578BCA" stroke="#a6a096" stroke-width="0.5"/>
<rect x="1023.17" y="248.29" width="37.68" height="9.52" fill="#457BC3" stroke="#a6a096" stroke-width="0.5"/>
<rect x="1060.85" y="248.29" width="37.68" height="9.52" fill="#457BC3" stroke="#a6a096" stroke-width="0.5"/>
<rect x="1098.53" y="248.29" width="37.68" height="9.52" fill="#457BC3" stroke="#a6a096" stroke-width="0.5"/>
<text x="1004.34" y="253.76" font-size="6.1" font-weight="bold" font-style="normal" text-anchor="middle" fill="#040c18" stroke="#040c18" stroke-width="0.22">1.00</text>
<text x="1042.01" y="253.76" font-size="6.1" font-weight="bold" font-style="normal" text-anchor="middle" fill="#040c18" stroke="#040c18" stroke-width="0.22">0.03</text>
<text x="1079.69" y="253.76" font-size="6.1" font-weight="bold" font-style="normal" text-anchor="middle" fill="#040c18" stroke="#040c18" stroke-width="0.22">0.20</text>
<text x="1117.36" y="253.76" font-size="6.1" font-weight="bold" font-style="normal" text-anchor="middle" fill="#040c18" stroke="#040c18" stroke-width="0.22">0.16</text>
<text x="1141.80" y="256.96" font-size="8.55" font-weight="bold" font-style="italic" text-anchor="start" fill="#000" stroke="#000" stroke-width="0.18">S0134_terrestrial_group</text>
<rect x="976.40" y="257.82" width="7.40" height="9.52" fill="#EE0000" stroke="#8c8c98" stroke-width="0.5"/>
<rect x="985.50" y="257.82" width="37.68" height="9.52" fill="#5387C8" stroke="#a6a096" stroke-width="0.5"/>
<rect x="1023.17" y="257.82" width="37.68" height="9.52" fill="#4A7FC5" stroke="#a6a096" stroke-width="0.5"/>
<rect x="1060.85" y="257.82" width="37.68" height="9.52" fill="#4E83C6" stroke="#a6a096" stroke-width="0.5"/>
<rect x="1098.53" y="257.82" width="37.68" height="9.52" fill="#4A7FC5" stroke="#a6a096" stroke-width="0.5"/>
<text x="1004.34" y="263.28" font-size="6.1" font-weight="bold" font-style="normal" text-anchor="middle" fill="#040c18" stroke="#040c18" stroke-width="0.22">0.76</text>
<text x="1042.01" y="263.28" font-size="6.1" font-weight="bold" font-style="normal" text-anchor="middle" fill="#040c18" stroke="#040c18" stroke-width="0.22">0.31</text>
<text x="1079.69" y="263.28" font-size="6.1" font-weight="bold" font-style="normal" text-anchor="middle" fill="#040c18" stroke="#040c18" stroke-width="0.22">0.59</text>
<text x="1117.36" y="263.28" font-size="6.1" font-weight="bold" font-style="normal" text-anchor="middle" fill="#040c18" stroke="#040c18" stroke-width="0.22">0.27</text>
<text x="1141.80" y="266.48" font-size="8.55" font-weight="bold" font-style="italic" text-anchor="start" fill="#000" stroke="#000" stroke-width="0.18">Nocardioides</text>
<rect x="976.40" y="267.34" width="7.40" height="9.52" fill="#5F559B" stroke="#8c8c98" stroke-width="0.5"/>
<rect x="985.50" y="267.34" width="37.68" height="9.52" fill="#578BCA" stroke="#a6a096" stroke-width="0.5"/>
<rect x="1023.17" y="267.34" width="37.68" height="9.52" fill="#4A7FC5" stroke="#a6a096" stroke-width="0.5"/>
<rect x="1060.85" y="267.34" width="37.68" height="9.52" fill="#4A7FC5" stroke="#a6a096" stroke-width="0.5"/>
<rect x="1098.53" y="267.34" width="37.68" height="9.52" fill="#4A7FC5" stroke="#a6a096" stroke-width="0.5"/>
<text x="1004.34" y="272.81" font-size="6.1" font-weight="bold" font-style="normal" text-anchor="middle" fill="#040c18" stroke="#040c18" stroke-width="0.22">0.81</text>
<text x="1042.01" y="272.81" font-size="6.1" font-weight="bold" font-style="normal" text-anchor="middle" fill="#040c18" stroke="#040c18" stroke-width="0.22">0.30</text>
<text x="1079.69" y="272.81" font-size="6.1" font-weight="bold" font-style="normal" text-anchor="middle" fill="#040c18" stroke="#040c18" stroke-width="0.22">0.38</text>
<text x="1117.36" y="272.81" font-size="6.1" font-weight="bold" font-style="normal" text-anchor="middle" fill="#040c18" stroke="#040c18" stroke-width="0.22">0.25</text>
<text x="1141.80" y="276.01" font-size="8.55" font-weight="bold" font-style="italic" text-anchor="start" fill="#000" stroke="#000" stroke-width="0.18">Subgroup_6</text>
<rect x="976.40" y="276.87" width="7.40" height="9.52" fill="#EE0000" stroke="#8c8c98" stroke-width="0.5"/>
<rect x="985.50" y="276.87" width="37.68" height="9.52" fill="#6094CD" stroke="#a6a096" stroke-width="0.5"/>
<rect x="1023.17" y="276.87" width="37.68" height="9.52" fill="#5387C8" stroke="#a6a096" stroke-width="0.5"/>
<rect x="1060.85" y="276.87" width="37.68" height="9.52" fill="#578BCA" stroke="#a6a096" stroke-width="0.5"/>
<rect x="1098.53" y="276.87" width="37.68" height="9.52" fill="#4A7FC5" stroke="#a6a096" stroke-width="0.5"/>
<text x="1004.34" y="282.33" font-size="6.1" font-weight="bold" font-style="normal" text-anchor="middle" fill="#040c18" stroke="#040c18" stroke-width="0.22">1.34</text>
<text x="1042.01" y="282.33" font-size="6.1" font-weight="bold" font-style="normal" text-anchor="middle" fill="#040c18" stroke="#040c18" stroke-width="0.22">0.64</text>
<text x="1079.69" y="282.33" font-size="6.1" font-weight="bold" font-style="normal" text-anchor="middle" fill="#040c18" stroke="#040c18" stroke-width="0.22">0.91</text>
<text x="1117.36" y="282.33" font-size="6.1" font-weight="bold" font-style="normal" text-anchor="middle" fill="#040c18" stroke="#040c18" stroke-width="0.22">0.40</text>
<text x="1141.80" y="285.53" font-size="8.55" font-weight="bold" font-style="italic" text-anchor="start" fill="#000" stroke="#000" stroke-width="0.18">Kocuria</text>
<rect x="976.40" y="286.39" width="7.40" height="9.52" fill="#EE0000" stroke="#8c8c98" stroke-width="0.5"/>
<rect x="985.50" y="286.39" width="37.68" height="9.52" fill="#5C90CB" stroke="#a6a096" stroke-width="0.5"/>
<rect x="1023.17" y="286.39" width="37.68" height="9.52" fill="#4E83C6" stroke="#a6a096" stroke-width="0.5"/>
<rect x="1060.85" y="286.39" width="37.68" height="9.52" fill="#578BCA" stroke="#a6a096" stroke-width="0.5"/>
<rect x="1098.53" y="286.39" width="37.68" height="9.52" fill="#5387C8" stroke="#a6a096" stroke-width="0.5"/>
<text x="1004.34" y="291.85" font-size="6.1" font-weight="bold" font-style="normal" text-anchor="middle" fill="#040c18" stroke="#040c18" stroke-width="0.22">1.09</text>
<text x="1042.01" y="291.85" font-size="6.1" font-weight="bold" font-style="normal" text-anchor="middle" fill="#040c18" stroke="#040c18" stroke-width="0.22">0.54</text>
<text x="1079.69" y="291.85" font-size="6.1" font-weight="bold" font-style="normal" text-anchor="middle" fill="#040c18" stroke="#040c18" stroke-width="0.22">0.83</text>
<text x="1117.36" y="291.85" font-size="6.1" font-weight="bold" font-style="normal" text-anchor="middle" fill="#040c18" stroke="#040c18" stroke-width="0.22">0.70</text>
<text x="1141.80" y="295.05" font-size="8.55" font-weight="bold" font-style="italic" text-anchor="start" fill="#000" stroke="#000" stroke-width="0.18">unclassified_Nocardioidaceae</text>
<rect x="976.40" y="295.92" width="7.40" height="9.52" fill="#601996" stroke="#8c8c98" stroke-width="0.5"/>
<rect x="985.50" y="295.92" width="37.68" height="9.52" fill="#5387C8" stroke="#a6a096" stroke-width="0.5"/>
<rect x="1023.17" y="295.92" width="37.68" height="9.52" fill="#578BCA" stroke="#a6a096" stroke-width="0.5"/>
<rect x="1060.85" y="295.92" width="37.68" height="9.52" fill="#4E83C6" stroke="#a6a096" stroke-width="0.5"/>
<rect x="1098.53" y="295.92" width="37.68" height="9.52" fill="#578BCA" stroke="#a6a096" stroke-width="0.5"/>
<text x="1004.34" y="301.38" font-size="6.1" font-weight="bold" font-style="normal" text-anchor="middle" fill="#040c18" stroke="#040c18" stroke-width="0.22">0.74</text>
<text x="1042.01" y="301.38" font-size="6.1" font-weight="bold" font-style="normal" text-anchor="middle" fill="#040c18" stroke="#040c18" stroke-width="0.22">0.89</text>
<text x="1079.69" y="301.38" font-size="6.1" font-weight="bold" font-style="normal" text-anchor="middle" fill="#040c18" stroke="#040c18" stroke-width="0.22">0.50</text>
<text x="1117.36" y="301.38" font-size="6.1" font-weight="bold" font-style="normal" text-anchor="middle" fill="#040c18" stroke="#040c18" stroke-width="0.22">0.82</text>
<text x="1141.80" y="304.28" font-size="8.4" font-weight="bold" font-style="normal" text-anchor="start" fill="#000" stroke="#000" stroke-width="0.12">uncultured</text>
<rect x="976.40" y="305.44" width="7.40" height="9.52" fill="#EE0000" stroke="#8c8c98" stroke-width="0.5"/>
<rect x="985.50" y="305.44" width="37.68" height="9.52" fill="#5C90CB" stroke="#a6a096" stroke-width="0.5"/>
<rect x="1023.17" y="305.44" width="37.68" height="9.52" fill="#5C90CB" stroke="#a6a096" stroke-width="0.5"/>
<rect x="1060.85" y="305.44" width="37.68" height="9.52" fill="#4A7FC5" stroke="#a6a096" stroke-width="0.5"/>
<rect x="1098.53" y="305.44" width="37.68" height="9.52" fill="#4A7FC5" stroke="#a6a096" stroke-width="0.5"/>
<text x="1004.34" y="310.90" font-size="6.1" font-weight="bold" font-style="normal" text-anchor="middle" fill="#040c18" stroke="#040c18" stroke-width="0.22">1.02</text>
<text x="1042.01" y="310.90" font-size="6.1" font-weight="bold" font-style="normal" text-anchor="middle" fill="#040c18" stroke="#040c18" stroke-width="0.22">1.15</text>
<text x="1079.69" y="310.90" font-size="6.1" font-weight="bold" font-style="normal" text-anchor="middle" fill="#040c18" stroke="#040c18" stroke-width="0.22">0.36</text>
<text x="1117.36" y="310.90" font-size="6.1" font-weight="bold" font-style="normal" text-anchor="middle" fill="#040c18" stroke="#040c18" stroke-width="0.22">0.22</text>
<text x="1141.80" y="314.10" font-size="8.55" font-weight="bold" font-style="italic" text-anchor="start" fill="#000" stroke="#000" stroke-width="0.18">unclassified_Propionibacteriaceae</text>
<rect x="976.40" y="314.97" width="7.40" height="9.52" fill="#EE0000" stroke="#8c8c98" stroke-width="0.5"/>
<rect x="985.50" y="314.97" width="37.68" height="9.52" fill="#578BCA" stroke="#a6a096" stroke-width="0.5"/>
<rect x="1023.17" y="314.97" width="37.68" height="9.52" fill="#5C90CB" stroke="#a6a096" stroke-width="0.5"/>
<rect x="1060.85" y="314.97" width="37.68" height="9.52" fill="#4A7FC5" stroke="#a6a096" stroke-width="0.5"/>
<rect x="1098.53" y="314.97" width="37.68" height="9.52" fill="#4A7FC5" stroke="#a6a096" stroke-width="0.5"/>
<text x="1004.34" y="320.43" font-size="6.1" font-weight="bold" font-style="normal" text-anchor="middle" fill="#040c18" stroke="#040c18" stroke-width="0.22">0.95</text>
<text x="1042.01" y="320.43" font-size="6.1" font-weight="bold" font-style="normal" text-anchor="middle" fill="#040c18" stroke="#040c18" stroke-width="0.22">1.03</text>
<text x="1079.69" y="320.43" font-size="6.1" font-weight="bold" font-style="normal" text-anchor="middle" fill="#040c18" stroke="#040c18" stroke-width="0.22">0.29</text>
<text x="1117.36" y="320.43" font-size="6.1" font-weight="bold" font-style="normal" text-anchor="middle" fill="#040c18" stroke="#040c18" stroke-width="0.22">0.32</text>
<text x="1141.80" y="323.33" font-size="8.4" font-weight="bold" font-style="normal" text-anchor="start" fill="#000" stroke="#000" stroke-width="0.12">uncultured</text>
<rect x="976.40" y="324.49" width="7.40" height="9.52" fill="#EE0000" stroke="#8c8c98" stroke-width="0.5"/>
<rect x="985.50" y="324.49" width="37.68" height="9.52" fill="#6094CD" stroke="#a6a096" stroke-width="0.5"/>
<rect x="1023.17" y="324.49" width="37.68" height="9.52" fill="#5387C8" stroke="#a6a096" stroke-width="0.5"/>
<rect x="1060.85" y="324.49" width="37.68" height="9.52" fill="#4E83C6" stroke="#a6a096" stroke-width="0.5"/>
<rect x="1098.53" y="324.49" width="37.68" height="9.52" fill="#4A7FC5" stroke="#a6a096" stroke-width="0.5"/>
<text x="1004.34" y="329.95" font-size="6.1" font-weight="bold" font-style="normal" text-anchor="middle" fill="#040c18" stroke="#040c18" stroke-width="0.22">1.25</text>
<text x="1042.01" y="329.95" font-size="6.1" font-weight="bold" font-style="normal" text-anchor="middle" fill="#040c18" stroke="#040c18" stroke-width="0.22">0.62</text>
<text x="1079.69" y="329.95" font-size="6.1" font-weight="bold" font-style="normal" text-anchor="middle" fill="#040c18" stroke="#040c18" stroke-width="0.22">0.46</text>
<text x="1117.36" y="329.95" font-size="6.1" font-weight="bold" font-style="normal" text-anchor="middle" fill="#040c18" stroke="#040c18" stroke-width="0.22">0.27</text>
<text x="1141.80" y="333.15" font-size="8.55" font-weight="bold" font-style="italic" text-anchor="start" fill="#000" stroke="#000" stroke-width="0.18">Agromyces</text>
<rect x="976.40" y="334.02" width="7.40" height="9.52" fill="#5F559B" stroke="#8c8c98" stroke-width="0.5"/>
<rect x="985.50" y="334.02" width="37.68" height="9.52" fill="#578BCA" stroke="#a6a096" stroke-width="0.5"/>
<rect x="1023.17" y="334.02" width="37.68" height="9.52" fill="#5387C8" stroke="#a6a096" stroke-width="0.5"/>
<rect x="1060.85" y="334.02" width="37.68" height="9.52" fill="#4E83C6" stroke="#a6a096" stroke-width="0.5"/>
<rect x="1098.53" y="334.02" width="37.68" height="9.52" fill="#457BC3" stroke="#a6a096" stroke-width="0.5"/>
<text x="1004.34" y="339.48" font-size="6.1" font-weight="bold" font-style="normal" text-anchor="middle" fill="#040c18" stroke="#040c18" stroke-width="0.22">1.00</text>
<text x="1042.01" y="339.48" font-size="6.1" font-weight="bold" font-style="normal" text-anchor="middle" fill="#040c18" stroke="#040c18" stroke-width="0.22">0.62</text>
<text x="1079.69" y="339.48" font-size="6.1" font-weight="bold" font-style="normal" text-anchor="middle" fill="#040c18" stroke="#040c18" stroke-width="0.22">0.47</text>
<text x="1117.36" y="339.48" font-size="6.1" font-weight="bold" font-style="normal" text-anchor="middle" fill="#040c18" stroke="#040c18" stroke-width="0.22">0.04</text>
<text x="1141.80" y="342.68" font-size="8.55" font-weight="bold" font-style="italic" text-anchor="start" fill="#000" stroke="#000" stroke-width="0.18">Subgroup_10</text>
<rect x="976.40" y="343.54" width="7.40" height="9.52" fill="#A6712A" stroke="#8c8c98" stroke-width="0.5"/>
<rect x="985.50" y="343.54" width="37.68" height="9.52" fill="#457BC3" stroke="#a6a096" stroke-width="0.5"/>
<rect x="1023.17" y="343.54" width="37.68" height="9.52" fill="#5C90CB" stroke="#a6a096" stroke-width="0.5"/>
<rect x="1060.85" y="343.54" width="37.68" height="9.52" fill="#457BC3" stroke="#a6a096" stroke-width="0.5"/>
<rect x="1098.53" y="343.54" width="37.68" height="9.52" fill="#457BC3" stroke="#a6a096" stroke-width="0.5"/>
<text x="1004.34" y="349.00" font-size="6.1" font-weight="bold" font-style="normal" text-anchor="middle" fill="#040c18" stroke="#040c18" stroke-width="0.22">0.08</text>
<text x="1042.01" y="349.00" font-size="6.1" font-weight="bold" font-style="normal" text-anchor="middle" fill="#040c18" stroke="#040c18" stroke-width="0.22">1.07</text>
<text x="1079.69" y="349.00" font-size="6.1" font-weight="bold" font-style="normal" text-anchor="middle" fill="#040c18" stroke="#040c18" stroke-width="0.22">0.17</text>
<text x="1117.36" y="349.00" font-size="6.1" font-weight="bold" font-style="normal" text-anchor="middle" fill="#040c18" stroke="#040c18" stroke-width="0.22">0.14</text>
<text x="1141.80" y="352.20" font-size="8.55" font-weight="bold" font-style="italic" text-anchor="start" fill="#000" stroke="#000" stroke-width="0.18">Chloroplast</text>
<rect x="976.40" y="353.06" width="7.40" height="9.52" fill="#3B4992" stroke="#8c8c98" stroke-width="0.5"/>
<rect x="985.50" y="353.06" width="37.68" height="9.52" fill="#4A7FC5" stroke="#a6a096" stroke-width="0.5"/>
<rect x="1023.17" y="353.06" width="37.68" height="9.52" fill="#4E83C6" stroke="#a6a096" stroke-width="0.5"/>
<rect x="1060.85" y="353.06" width="37.68" height="9.52" fill="#4E83C6" stroke="#a6a096" stroke-width="0.5"/>
<rect x="1098.53" y="353.06" width="37.68" height="9.52" fill="#4A7FC5" stroke="#a6a096" stroke-width="0.5"/>
<text x="1004.34" y="358.53" font-size="6.1" font-weight="bold" font-style="normal" text-anchor="middle" fill="#040c18" stroke="#040c18" stroke-width="0.22">0.32</text>
<text x="1042.01" y="358.53" font-size="6.1" font-weight="bold" font-style="normal" text-anchor="middle" fill="#040c18" stroke="#040c18" stroke-width="0.22">0.58</text>
<text x="1079.69" y="358.53" font-size="6.1" font-weight="bold" font-style="normal" text-anchor="middle" fill="#040c18" stroke="#040c18" stroke-width="0.22">0.47</text>
<text x="1117.36" y="358.53" font-size="6.1" font-weight="bold" font-style="normal" text-anchor="middle" fill="#040c18" stroke="#040c18" stroke-width="0.22">0.30</text>
<text x="1141.80" y="361.73" font-size="8.55" font-weight="bold" font-style="italic" text-anchor="start" fill="#000" stroke="#000" stroke-width="0.18">Defluviicoccus</text>
<rect x="976.40" y="362.59" width="7.40" height="9.52" fill="#3B4992" stroke="#8c8c98" stroke-width="0.5"/>
<rect x="985.50" y="362.59" width="37.68" height="9.52" fill="#4E83C6" stroke="#a6a096" stroke-width="0.5"/>
<rect x="1023.17" y="362.59" width="37.68" height="9.52" fill="#5387C8" stroke="#a6a096" stroke-width="0.5"/>
<rect x="1060.85" y="362.59" width="37.68" height="9.52" fill="#4E83C6" stroke="#a6a096" stroke-width="0.5"/>
<rect x="1098.53" y="362.59" width="37.68" height="9.52" fill="#4A7FC5" stroke="#a6a096" stroke-width="0.5"/>
<text x="1004.34" y="368.05" font-size="6.1" font-weight="bold" font-style="normal" text-anchor="middle" fill="#040c18" stroke="#040c18" stroke-width="0.22">0.49</text>
<text x="1042.01" y="368.05" font-size="6.1" font-weight="bold" font-style="normal" text-anchor="middle" fill="#040c18" stroke="#040c18" stroke-width="0.22">0.73</text>
<text x="1079.69" y="368.05" font-size="6.1" font-weight="bold" font-style="normal" text-anchor="middle" fill="#040c18" stroke="#040c18" stroke-width="0.22">0.55</text>
<text x="1117.36" y="368.05" font-size="6.1" font-weight="bold" font-style="normal" text-anchor="middle" fill="#040c18" stroke="#040c18" stroke-width="0.22">0.30</text>
<text x="1141.80" y="371.25" font-size="8.55" font-weight="bold" font-style="italic" text-anchor="start" fill="#000" stroke="#000" stroke-width="0.18">Ensifer</text>
<rect x="976.40" y="372.11" width="7.40" height="9.52" fill="#3B4992" stroke="#8c8c98" stroke-width="0.5"/>
<rect x="985.50" y="372.11" width="37.68" height="9.52" fill="#457BC3" stroke="#a6a096" stroke-width="0.5"/>
<rect x="1023.17" y="372.11" width="37.68" height="9.52" fill="#4A7FC5" stroke="#a6a096" stroke-width="0.5"/>
<rect x="1060.85" y="372.11" width="37.68" height="9.52" fill="#578BCA" stroke="#a6a096" stroke-width="0.5"/>
<rect x="1098.53" y="372.11" width="37.68" height="9.52" fill="#4E83C6" stroke="#a6a096" stroke-width="0.5"/>
<text x="1004.34" y="377.58" font-size="6.1" font-weight="bold" font-style="normal" text-anchor="middle" fill="#040c18" stroke="#040c18" stroke-width="0.22">0.10</text>
<text x="1042.01" y="377.58" font-size="6.1" font-weight="bold" font-style="normal" text-anchor="middle" fill="#040c18" stroke="#040c18" stroke-width="0.22">0.31</text>
<text x="1079.69" y="377.58" font-size="6.1" font-weight="bold" font-style="normal" text-anchor="middle" fill="#040c18" stroke="#040c18" stroke-width="0.22">0.95</text>
<text x="1117.36" y="377.58" font-size="6.1" font-weight="bold" font-style="normal" text-anchor="middle" fill="#040c18" stroke="#040c18" stroke-width="0.22">0.47</text>
<text x="1141.80" y="380.78" font-size="8.55" font-weight="bold" font-style="italic" text-anchor="start" fill="#000" stroke="#000" stroke-width="0.18">MM2</text>
<rect x="976.40" y="381.64" width="7.40" height="9.52" fill="#EE0000" stroke="#8c8c98" stroke-width="0.5"/>
<rect x="985.50" y="381.64" width="37.68" height="9.52" fill="#457BC3" stroke="#a6a096" stroke-width="0.5"/>
<rect x="1023.17" y="381.64" width="37.68" height="9.52" fill="#4A7FC5" stroke="#a6a096" stroke-width="0.5"/>
<rect x="1060.85" y="381.64" width="37.68" height="9.52" fill="#578BCA" stroke="#a6a096" stroke-width="0.5"/>
<rect x="1098.53" y="381.64" width="37.68" height="9.52" fill="#4E83C6" stroke="#a6a096" stroke-width="0.5"/>
<text x="1004.34" y="387.10" font-size="6.1" font-weight="bold" font-style="normal" text-anchor="middle" fill="#040c18" stroke="#040c18" stroke-width="0.22">0.16</text>
<text x="1042.01" y="387.10" font-size="6.1" font-weight="bold" font-style="normal" text-anchor="middle" fill="#040c18" stroke="#040c18" stroke-width="0.22">0.34</text>
<text x="1079.69" y="387.10" font-size="6.1" font-weight="bold" font-style="normal" text-anchor="middle" fill="#040c18" stroke="#040c18" stroke-width="0.22">0.86</text>
<text x="1117.36" y="387.10" font-size="6.1" font-weight="bold" font-style="normal" text-anchor="middle" fill="#040c18" stroke="#040c18" stroke-width="0.22">0.53</text>
<text x="1141.80" y="390.30" font-size="8.55" font-weight="bold" font-style="italic" text-anchor="start" fill="#000" stroke="#000" stroke-width="0.18">unclassified_Micromonosporaceae</text>
<rect x="976.40" y="391.16" width="7.40" height="9.52" fill="#601996" stroke="#8c8c98" stroke-width="0.5"/>
<rect x="985.50" y="391.16" width="37.68" height="9.52" fill="#4A7FC5" stroke="#a6a096" stroke-width="0.5"/>
<rect x="1023.17" y="391.16" width="37.68" height="9.52" fill="#4A7FC5" stroke="#a6a096" stroke-width="0.5"/>
<rect x="1060.85" y="391.16" width="37.68" height="9.52" fill="#4E83C6" stroke="#a6a096" stroke-width="0.5"/>
<rect x="1098.53" y="391.16" width="37.68" height="9.52" fill="#578BCA" stroke="#a6a096" stroke-width="0.5"/>
<text x="1004.34" y="396.63" font-size="6.1" font-weight="bold" font-style="normal" text-anchor="middle" fill="#040c18" stroke="#040c18" stroke-width="0.22">0.32</text>
<text x="1042.01" y="396.63" font-size="6.1" font-weight="bold" font-style="normal" text-anchor="middle" fill="#040c18" stroke="#040c18" stroke-width="0.22">0.21</text>
<text x="1079.69" y="396.63" font-size="6.1" font-weight="bold" font-style="normal" text-anchor="middle" fill="#040c18" stroke="#040c18" stroke-width="0.22">0.58</text>
<text x="1117.36" y="396.63" font-size="6.1" font-weight="bold" font-style="normal" text-anchor="middle" fill="#040c18" stroke="#040c18" stroke-width="0.22">0.93</text>
<text x="1141.80" y="399.83" font-size="8.55" font-weight="bold" font-style="italic" text-anchor="start" fill="#000" stroke="#000" stroke-width="0.18">Paenibacillus</text>
<rect x="976.40" y="400.69" width="7.40" height="9.52" fill="#008280" stroke="#8c8c98" stroke-width="0.5"/>
<rect x="985.50" y="400.69" width="37.68" height="9.52" fill="#4A7FC5" stroke="#a6a096" stroke-width="0.5"/>
<rect x="1023.17" y="400.69" width="37.68" height="9.52" fill="#4A7FC5" stroke="#a6a096" stroke-width="0.5"/>
<rect x="1060.85" y="400.69" width="37.68" height="9.52" fill="#4A7FC5" stroke="#a6a096" stroke-width="0.5"/>
<rect x="1098.53" y="400.69" width="37.68" height="9.52" fill="#5387C8" stroke="#a6a096" stroke-width="0.5"/>
<text x="1004.34" y="406.15" font-size="6.1" font-weight="bold" font-style="normal" text-anchor="middle" fill="#040c18" stroke="#040c18" stroke-width="0.22">0.38</text>
<text x="1042.01" y="406.15" font-size="6.1" font-weight="bold" font-style="normal" text-anchor="middle" fill="#040c18" stroke="#040c18" stroke-width="0.22">0.34</text>
<text x="1079.69" y="406.15" font-size="6.1" font-weight="bold" font-style="normal" text-anchor="middle" fill="#040c18" stroke="#040c18" stroke-width="0.22">0.33</text>
<text x="1117.36" y="406.15" font-size="6.1" font-weight="bold" font-style="normal" text-anchor="middle" fill="#040c18" stroke="#040c18" stroke-width="0.22">0.75</text>
<text x="1141.80" y="409.35" font-size="8.55" font-weight="bold" font-style="italic" text-anchor="start" fill="#000" stroke="#000" stroke-width="0.18">Gitt-GS-136</text>
<rect x="976.40" y="410.21" width="7.40" height="9.52" fill="#601996" stroke="#8c8c98" stroke-width="0.5"/>
<rect x="985.50" y="410.21" width="37.68" height="9.52" fill="#457BC3" stroke="#a6a096" stroke-width="0.5"/>
<rect x="1023.17" y="410.21" width="37.68" height="9.52" fill="#4A7FC5" stroke="#a6a096" stroke-width="0.5"/>
<rect x="1060.85" y="410.21" width="37.68" height="9.52" fill="#4A7FC5" stroke="#a6a096" stroke-width="0.5"/>
<rect x="1098.53" y="410.21" width="37.68" height="9.52" fill="#4E83C6" stroke="#a6a096" stroke-width="0.5"/>
<text x="1004.34" y="415.68" font-size="6.1" font-weight="bold" font-style="normal" text-anchor="middle" fill="#040c18" stroke="#040c18" stroke-width="0.22">0.17</text>
<text x="1042.01" y="415.68" font-size="6.1" font-weight="bold" font-style="normal" text-anchor="middle" fill="#040c18" stroke="#040c18" stroke-width="0.22">0.37</text>
<text x="1079.69" y="415.68" font-size="6.1" font-weight="bold" font-style="normal" text-anchor="middle" fill="#040c18" stroke="#040c18" stroke-width="0.22">0.35</text>
<text x="1117.36" y="415.68" font-size="6.1" font-weight="bold" font-style="normal" text-anchor="middle" fill="#040c18" stroke="#040c18" stroke-width="0.22">0.57</text>
<text x="1141.80" y="418.88" font-size="8.55" font-weight="bold" font-style="italic" text-anchor="start" fill="#000" stroke="#000" stroke-width="0.18">Novibacillus</text>
<rect x="976.40" y="419.74" width="7.40" height="9.52" fill="#3B4992" stroke="#8c8c98" stroke-width="0.5"/>
<rect x="985.50" y="419.74" width="37.68" height="9.52" fill="#4A7FC5" stroke="#a6a096" stroke-width="0.5"/>
<rect x="1023.17" y="419.74" width="37.68" height="9.52" fill="#4A7FC5" stroke="#a6a096" stroke-width="0.5"/>
<rect x="1060.85" y="419.74" width="37.68" height="9.52" fill="#4A7FC5" stroke="#a6a096" stroke-width="0.5"/>
<rect x="1098.53" y="419.74" width="37.68" height="9.52" fill="#5387C8" stroke="#a6a096" stroke-width="0.5"/>
<text x="1004.34" y="425.20" font-size="6.1" font-weight="bold" font-style="normal" text-anchor="middle" fill="#040c18" stroke="#040c18" stroke-width="0.22">0.24</text>
<text x="1042.01" y="425.20" font-size="6.1" font-weight="bold" font-style="normal" text-anchor="middle" fill="#040c18" stroke="#040c18" stroke-width="0.22">0.28</text>
<text x="1079.69" y="425.20" font-size="6.1" font-weight="bold" font-style="normal" text-anchor="middle" fill="#040c18" stroke="#040c18" stroke-width="0.22">0.26</text>
<text x="1117.36" y="425.20" font-size="6.1" font-weight="bold" font-style="normal" text-anchor="middle" fill="#040c18" stroke="#040c18" stroke-width="0.22">0.65</text>
<text x="1141.80" y="428.40" font-size="8.55" font-weight="bold" font-style="italic" text-anchor="start" fill="#000" stroke="#000" stroke-width="0.18">UBA6140</text>
<rect x="976.40" y="429.26" width="7.40" height="9.52" fill="#3B4992" stroke="#8c8c98" stroke-width="0.5"/>
<rect x="985.50" y="429.26" width="37.68" height="9.52" fill="#4E83C6" stroke="#a6a096" stroke-width="0.5"/>
<rect x="1023.17" y="429.26" width="37.68" height="9.52" fill="#4A7FC5" stroke="#a6a096" stroke-width="0.5"/>
<rect x="1060.85" y="429.26" width="37.68" height="9.52" fill="#457BC3" stroke="#a6a096" stroke-width="0.5"/>
<rect x="1098.53" y="429.26" width="37.68" height="9.52" fill="#457BC3" stroke="#a6a096" stroke-width="0.5"/>
<text x="1004.34" y="434.72" font-size="6.1" font-weight="bold" font-style="normal" text-anchor="middle" fill="#040c18" stroke="#040c18" stroke-width="0.22">0.54</text>
<text x="1042.01" y="434.72" font-size="6.1" font-weight="bold" font-style="normal" text-anchor="middle" fill="#040c18" stroke="#040c18" stroke-width="0.22">0.30</text>
<text x="1079.69" y="434.72" font-size="6.1" font-weight="bold" font-style="normal" text-anchor="middle" fill="#040c18" stroke="#040c18" stroke-width="0.22">0.08</text>
<text x="1117.36" y="434.72" font-size="6.1" font-weight="bold" font-style="normal" text-anchor="middle" fill="#040c18" stroke="#040c18" stroke-width="0.22">0.06</text>
<text x="1141.80" y="437.92" font-size="8.55" font-weight="bold" font-style="italic" text-anchor="start" fill="#000" stroke="#000" stroke-width="0.18">HOC36</text>
<rect x="976.40" y="438.79" width="7.40" height="9.52" fill="#3B4992" stroke="#8c8c98" stroke-width="0.5"/>
<rect x="985.50" y="438.79" width="37.68" height="9.52" fill="#4E83C6" stroke="#a6a096" stroke-width="0.5"/>
<rect x="1023.17" y="438.79" width="37.68" height="9.52" fill="#4A7FC5" stroke="#a6a096" stroke-width="0.5"/>
<rect x="1060.85" y="438.79" width="37.68" height="9.52" fill="#457BC3" stroke="#a6a096" stroke-width="0.5"/>
<rect x="1098.53" y="438.79" width="37.68" height="9.52" fill="#457BC3" stroke="#a6a096" stroke-width="0.5"/>
<text x="1004.34" y="444.25" font-size="6.1" font-weight="bold" font-style="normal" text-anchor="middle" fill="#040c18" stroke="#040c18" stroke-width="0.22">0.54</text>
<text x="1042.01" y="444.25" font-size="6.1" font-weight="bold" font-style="normal" text-anchor="middle" fill="#040c18" stroke="#040c18" stroke-width="0.22">0.30</text>
<text x="1079.69" y="444.25" font-size="6.1" font-weight="bold" font-style="normal" text-anchor="middle" fill="#040c18" stroke="#040c18" stroke-width="0.22">0.19</text>
<text x="1117.36" y="444.25" font-size="6.1" font-weight="bold" font-style="normal" text-anchor="middle" fill="#040c18" stroke="#040c18" stroke-width="0.22">0.08</text>
<text x="1141.80" y="447.45" font-size="8.55" font-weight="bold" font-style="italic" text-anchor="start" fill="#000" stroke="#000" stroke-width="0.18">Mesorhizobium</text>
<rect x="976.40" y="448.31" width="7.40" height="9.52" fill="#A6712A" stroke="#8c8c98" stroke-width="0.5"/>
<rect x="985.50" y="448.31" width="37.68" height="9.52" fill="#4A7FC5" stroke="#a6a096" stroke-width="0.5"/>
<rect x="1023.17" y="448.31" width="37.68" height="9.52" fill="#4A7FC5" stroke="#a6a096" stroke-width="0.5"/>
<rect x="1060.85" y="448.31" width="37.68" height="9.52" fill="#457BC3" stroke="#a6a096" stroke-width="0.5"/>
<rect x="1098.53" y="448.31" width="37.68" height="9.52" fill="#457BC3" stroke="#a6a096" stroke-width="0.5"/>
<text x="1004.34" y="453.77" font-size="6.1" font-weight="bold" font-style="normal" text-anchor="middle" fill="#040c18" stroke="#040c18" stroke-width="0.22">0.36</text>
<text x="1042.01" y="453.77" font-size="6.1" font-weight="bold" font-style="normal" text-anchor="middle" fill="#040c18" stroke="#040c18" stroke-width="0.22">0.27</text>
<text x="1079.69" y="453.77" font-size="6.1" font-weight="bold" font-style="normal" text-anchor="middle" fill="#040c18" stroke="#040c18" stroke-width="0.22">0.05</text>
<text x="1117.36" y="453.77" font-size="6.1" font-weight="bold" font-style="normal" text-anchor="middle" fill="#040c18" stroke="#040c18" stroke-width="0.22">0.09</text>
<text x="1141.80" y="456.97" font-size="8.55" font-weight="bold" font-style="italic" text-anchor="start" fill="#000" stroke="#000" stroke-width="0.18">wb1-A12</text>
<rect x="976.40" y="457.84" width="7.40" height="9.52" fill="#3B4992" stroke="#8c8c98" stroke-width="0.5"/>
<rect x="985.50" y="457.84" width="37.68" height="9.52" fill="#4A7FC5" stroke="#a6a096" stroke-width="0.5"/>
<rect x="1023.17" y="457.84" width="37.68" height="9.52" fill="#457BC3" stroke="#a6a096" stroke-width="0.5"/>
<rect x="1060.85" y="457.84" width="37.68" height="9.52" fill="#457BC3" stroke="#a6a096" stroke-width="0.5"/>
<rect x="1098.53" y="457.84" width="37.68" height="9.52" fill="#457BC3" stroke="#a6a096" stroke-width="0.5"/>
<text x="1004.34" y="463.30" font-size="6.1" font-weight="bold" font-style="normal" text-anchor="middle" fill="#040c18" stroke="#040c18" stroke-width="0.22">0.36</text>
<text x="1042.01" y="463.30" font-size="6.1" font-weight="bold" font-style="normal" text-anchor="middle" fill="#040c18" stroke="#040c18" stroke-width="0.22">0.16</text>
<text x="1079.69" y="463.30" font-size="6.1" font-weight="bold" font-style="normal" text-anchor="middle" fill="#040c18" stroke="#040c18" stroke-width="0.22">0.14</text>
<text x="1117.36" y="463.30" font-size="6.1" font-weight="bold" font-style="normal" text-anchor="middle" fill="#040c18" stroke="#040c18" stroke-width="0.22">0.06</text>
<text x="1141.80" y="466.50" font-size="8.55" font-weight="bold" font-style="italic" text-anchor="start" fill="#000" stroke="#000" stroke-width="0.18">bacteriap25</text>
<rect x="976.40" y="467.36" width="7.40" height="9.52" fill="#3B4992" stroke="#8c8c98" stroke-width="0.5"/>
<rect x="985.50" y="467.36" width="37.68" height="9.52" fill="#4A7FC5" stroke="#a6a096" stroke-width="0.5"/>
<rect x="1023.17" y="467.36" width="37.68" height="9.52" fill="#457BC3" stroke="#a6a096" stroke-width="0.5"/>
<rect x="1060.85" y="467.36" width="37.68" height="9.52" fill="#457BC3" stroke="#a6a096" stroke-width="0.5"/>
<rect x="1098.53" y="467.36" width="37.68" height="9.52" fill="#457BC3" stroke="#a6a096" stroke-width="0.5"/>
<text x="1004.34" y="472.82" font-size="6.1" font-weight="bold" font-style="normal" text-anchor="middle" fill="#040c18" stroke="#040c18" stroke-width="0.22">0.25</text>
<text x="1042.01" y="472.82" font-size="6.1" font-weight="bold" font-style="normal" text-anchor="middle" fill="#040c18" stroke="#040c18" stroke-width="0.22">0.19</text>
<text x="1079.69" y="472.82" font-size="6.1" font-weight="bold" font-style="normal" text-anchor="middle" fill="#040c18" stroke="#040c18" stroke-width="0.22">0.19</text>
<text x="1117.36" y="472.82" font-size="6.1" font-weight="bold" font-style="normal" text-anchor="middle" fill="#040c18" stroke="#040c18" stroke-width="0.22">0.08</text>
<text x="1141.80" y="475.72" font-size="8.4" font-weight="bold" font-style="normal" text-anchor="start" fill="#000" stroke="#000" stroke-width="0.12">uncultured</text>
<rect x="976.40" y="476.89" width="7.40" height="9.52" fill="#3B4992" stroke="#8c8c98" stroke-width="0.5"/>
<rect x="985.50" y="476.89" width="37.68" height="9.52" fill="#4A7FC5" stroke="#a6a096" stroke-width="0.5"/>
<rect x="1023.17" y="476.89" width="37.68" height="9.52" fill="#4A7FC5" stroke="#a6a096" stroke-width="0.5"/>
<rect x="1060.85" y="476.89" width="37.68" height="9.52" fill="#4E83C6" stroke="#a6a096" stroke-width="0.5"/>
<rect x="1098.53" y="476.89" width="37.68" height="9.52" fill="#4A7FC5" stroke="#a6a096" stroke-width="0.5"/>
<text x="1004.34" y="482.35" font-size="6.1" font-weight="bold" font-style="normal" text-anchor="middle" fill="#040c18" stroke="#040c18" stroke-width="0.22">0.27</text>
<text x="1042.01" y="482.35" font-size="6.1" font-weight="bold" font-style="normal" text-anchor="middle" fill="#040c18" stroke="#040c18" stroke-width="0.22">0.33</text>
<text x="1079.69" y="482.35" font-size="6.1" font-weight="bold" font-style="normal" text-anchor="middle" fill="#040c18" stroke="#040c18" stroke-width="0.22">0.45</text>
<text x="1117.36" y="482.35" font-size="6.1" font-weight="bold" font-style="normal" text-anchor="middle" fill="#040c18" stroke="#040c18" stroke-width="0.22">0.32</text>
<text x="1141.80" y="485.55" font-size="8.55" font-weight="bold" font-style="italic" text-anchor="start" fill="#000" stroke="#000" stroke-width="0.18">Pelagibius</text>
<rect x="976.40" y="486.41" width="7.40" height="9.52" fill="#3B4992" stroke="#8c8c98" stroke-width="0.5"/>
<rect x="985.50" y="486.41" width="37.68" height="9.52" fill="#4A7FC5" stroke="#a6a096" stroke-width="0.5"/>
<rect x="1023.17" y="486.41" width="37.68" height="9.52" fill="#4A7FC5" stroke="#a6a096" stroke-width="0.5"/>
<rect x="1060.85" y="486.41" width="37.68" height="9.52" fill="#4A7FC5" stroke="#a6a096" stroke-width="0.5"/>
<rect x="1098.53" y="486.41" width="37.68" height="9.52" fill="#457BC3" stroke="#a6a096" stroke-width="0.5"/>
<text x="1004.34" y="491.87" font-size="6.1" font-weight="bold" font-style="normal" text-anchor="middle" fill="#040c18" stroke="#040c18" stroke-width="0.22">0.28</text>
<text x="1042.01" y="491.87" font-size="6.1" font-weight="bold" font-style="normal" text-anchor="middle" fill="#040c18" stroke="#040c18" stroke-width="0.22">0.37</text>
<text x="1079.69" y="491.87" font-size="6.1" font-weight="bold" font-style="normal" text-anchor="middle" fill="#040c18" stroke="#040c18" stroke-width="0.22">0.28</text>
<text x="1117.36" y="491.87" font-size="6.1" font-weight="bold" font-style="normal" text-anchor="middle" fill="#040c18" stroke="#040c18" stroke-width="0.22">0.11</text>
<text x="1141.80" y="495.07" font-size="8.55" font-weight="bold" font-style="italic" text-anchor="start" fill="#000" stroke="#000" stroke-width="0.18">Amb-16S-1323</text>
<rect x="976.40" y="495.94" width="7.40" height="9.52" fill="#3B4992" stroke="#8c8c98" stroke-width="0.5"/>
<rect x="985.50" y="495.94" width="37.68" height="9.52" fill="#4E83C6" stroke="#a6a096" stroke-width="0.5"/>
<rect x="1023.17" y="495.94" width="37.68" height="9.52" fill="#4E83C6" stroke="#a6a096" stroke-width="0.5"/>
<rect x="1060.85" y="495.94" width="37.68" height="9.52" fill="#4A7FC5" stroke="#a6a096" stroke-width="0.5"/>
<rect x="1098.53" y="495.94" width="37.68" height="9.52" fill="#457BC3" stroke="#a6a096" stroke-width="0.5"/>
<text x="1004.34" y="501.40" font-size="6.1" font-weight="bold" font-style="normal" text-anchor="middle" fill="#040c18" stroke="#040c18" stroke-width="0.22">0.45</text>
<text x="1042.01" y="501.40" font-size="6.1" font-weight="bold" font-style="normal" text-anchor="middle" fill="#040c18" stroke="#040c18" stroke-width="0.22">0.46</text>
<text x="1079.69" y="501.40" font-size="6.1" font-weight="bold" font-style="normal" text-anchor="middle" fill="#040c18" stroke="#040c18" stroke-width="0.22">0.35</text>
<text x="1117.36" y="501.40" font-size="6.1" font-weight="bold" font-style="normal" text-anchor="middle" fill="#040c18" stroke="#040c18" stroke-width="0.22">0.10</text>
<text x="1141.80" y="504.60" font-size="8.55" font-weight="bold" font-style="italic" text-anchor="start" fill="#000" stroke="#000" stroke-width="0.18">Ellin6067</text>
<rect x="976.40" y="505.46" width="7.40" height="9.52" fill="#3B4992" stroke="#8c8c98" stroke-width="0.5"/>
<rect x="985.50" y="505.46" width="37.68" height="9.52" fill="#4A7FC5" stroke="#a6a096" stroke-width="0.5"/>
<rect x="1023.17" y="505.46" width="37.68" height="9.52" fill="#4A7FC5" stroke="#a6a096" stroke-width="0.5"/>
<rect x="1060.85" y="505.46" width="37.68" height="9.52" fill="#457BC3" stroke="#a6a096" stroke-width="0.5"/>
<rect x="1098.53" y="505.46" width="37.68" height="9.52" fill="#457BC3" stroke="#a6a096" stroke-width="0.5"/>
<text x="1004.34" y="510.92" font-size="6.1" font-weight="bold" font-style="normal" text-anchor="middle" fill="#040c18" stroke="#040c18" stroke-width="0.22">0.23</text>
<text x="1042.01" y="510.92" font-size="6.1" font-weight="bold" font-style="normal" text-anchor="middle" fill="#040c18" stroke="#040c18" stroke-width="0.22">0.33</text>
<text x="1079.69" y="510.92" font-size="6.1" font-weight="bold" font-style="normal" text-anchor="middle" fill="#040c18" stroke="#040c18" stroke-width="0.22">0.09</text>
<text x="1117.36" y="510.92" font-size="6.1" font-weight="bold" font-style="normal" text-anchor="middle" fill="#040c18" stroke="#040c18" stroke-width="0.22">0.19</text>
<text x="1141.80" y="514.12" font-size="8.55" font-weight="bold" font-style="italic" text-anchor="start" fill="#000" stroke="#000" stroke-width="0.18">Methylobacillus</text>
<rect x="976.40" y="514.98" width="7.40" height="9.52" fill="#EE0000" stroke="#8c8c98" stroke-width="0.5"/>
<rect x="985.50" y="514.98" width="37.68" height="9.52" fill="#457BC3" stroke="#a6a096" stroke-width="0.5"/>
<rect x="1023.17" y="514.98" width="37.68" height="9.52" fill="#4A7FC5" stroke="#a6a096" stroke-width="0.5"/>
<rect x="1060.85" y="514.98" width="37.68" height="9.52" fill="#457BC3" stroke="#a6a096" stroke-width="0.5"/>
<rect x="1098.53" y="514.98" width="37.68" height="9.52" fill="#457BC3" stroke="#a6a096" stroke-width="0.5"/>
<text x="1004.34" y="520.45" font-size="6.1" font-weight="bold" font-style="normal" text-anchor="middle" fill="#040c18" stroke="#040c18" stroke-width="0.22">0.07</text>
<text x="1042.01" y="520.45" font-size="6.1" font-weight="bold" font-style="normal" text-anchor="middle" fill="#040c18" stroke="#040c18" stroke-width="0.22">0.33</text>
<text x="1079.69" y="520.45" font-size="6.1" font-weight="bold" font-style="normal" text-anchor="middle" fill="#040c18" stroke="#040c18" stroke-width="0.22">0.12</text>
<text x="1117.36" y="520.45" font-size="6.1" font-weight="bold" font-style="normal" text-anchor="middle" fill="#040c18" stroke="#040c18" stroke-width="0.22">0.18</text>
<text x="1141.80" y="523.35" font-size="8.4" font-weight="bold" font-style="normal" text-anchor="start" fill="#000" stroke="#000" stroke-width="0.12">uncultured</text>
<rect x="976.40" y="524.51" width="7.40" height="9.52" fill="#EE0000" stroke="#8c8c98" stroke-width="0.5"/>
<rect x="985.50" y="524.51" width="37.68" height="9.52" fill="#457BC3" stroke="#a6a096" stroke-width="0.5"/>
<rect x="1023.17" y="524.51" width="37.68" height="9.52" fill="#457BC3" stroke="#a6a096" stroke-width="0.5"/>
<rect x="1060.85" y="524.51" width="37.68" height="9.52" fill="#457BC3" stroke="#a6a096" stroke-width="0.5"/>
<rect x="1098.53" y="524.51" width="37.68" height="9.52" fill="#457BC3" stroke="#a6a096" stroke-width="0.5"/>
<text x="1004.34" y="529.97" font-size="6.1" font-weight="bold" font-style="normal" text-anchor="middle" fill="#040c18" stroke="#040c18" stroke-width="0.22">0.09</text>
<text x="1042.01" y="529.97" font-size="6.1" font-weight="bold" font-style="normal" text-anchor="middle" fill="#040c18" stroke="#040c18" stroke-width="0.22">0.07</text>
<text x="1079.69" y="529.97" font-size="6.1" font-weight="bold" font-style="normal" text-anchor="middle" fill="#040c18" stroke="#040c18" stroke-width="0.22">0.17</text>
<text x="1117.36" y="529.97" font-size="6.1" font-weight="bold" font-style="normal" text-anchor="middle" fill="#040c18" stroke="#040c18" stroke-width="0.22">0.13</text>
<text x="1141.80" y="533.17" font-size="8.55" font-weight="bold" font-style="italic" text-anchor="start" fill="#000" stroke="#000" stroke-width="0.18">MB-A2-108</text>
<rect x="976.40" y="534.03" width="7.40" height="9.52" fill="#3B4992" stroke="#8c8c98" stroke-width="0.5"/>
<rect x="985.50" y="534.03" width="37.68" height="9.52" fill="#457BC3" stroke="#a6a096" stroke-width="0.5"/>
<rect x="1023.17" y="534.03" width="37.68" height="9.52" fill="#457BC3" stroke="#a6a096" stroke-width="0.5"/>
<rect x="1060.85" y="534.03" width="37.68" height="9.52" fill="#457BC3" stroke="#a6a096" stroke-width="0.5"/>
<rect x="1098.53" y="534.03" width="37.68" height="9.52" fill="#4A7FC5" stroke="#a6a096" stroke-width="0.5"/>
<text x="1004.34" y="539.50" font-size="6.1" font-weight="bold" font-style="normal" text-anchor="middle" fill="#040c18" stroke="#040c18" stroke-width="0.22">0.09</text>
<text x="1042.01" y="539.50" font-size="6.1" font-weight="bold" font-style="normal" text-anchor="middle" fill="#040c18" stroke="#040c18" stroke-width="0.22">0.10</text>
<text x="1079.69" y="539.50" font-size="6.1" font-weight="bold" font-style="normal" text-anchor="middle" fill="#040c18" stroke="#040c18" stroke-width="0.22">0.12</text>
<text x="1117.36" y="539.50" font-size="6.1" font-weight="bold" font-style="normal" text-anchor="middle" fill="#040c18" stroke="#040c18" stroke-width="0.22">0.25</text>
<text x="1141.80" y="542.70" font-size="8.55" font-weight="bold" font-style="italic" text-anchor="start" fill="#000" stroke="#000" stroke-width="0.18">unclassified_Rhizobiaceae</text>
<rect x="976.40" y="543.56" width="7.40" height="9.52" fill="#008280" stroke="#8c8c98" stroke-width="0.5"/>
<rect x="985.50" y="543.56" width="37.68" height="9.52" fill="#457BC3" stroke="#a6a096" stroke-width="0.5"/>
<rect x="1023.17" y="543.56" width="37.68" height="9.52" fill="#4A7FC5" stroke="#a6a096" stroke-width="0.5"/>
<rect x="1060.85" y="543.56" width="37.68" height="9.52" fill="#4A7FC5" stroke="#a6a096" stroke-width="0.5"/>
<rect x="1098.53" y="543.56" width="37.68" height="9.52" fill="#4A7FC5" stroke="#a6a096" stroke-width="0.5"/>
<text x="1004.34" y="549.02" font-size="6.1" font-weight="bold" font-style="normal" text-anchor="middle" fill="#040c18" stroke="#040c18" stroke-width="0.22">0.04</text>
<text x="1042.01" y="549.02" font-size="6.1" font-weight="bold" font-style="normal" text-anchor="middle" fill="#040c18" stroke="#040c18" stroke-width="0.22">0.23</text>
<text x="1079.69" y="549.02" font-size="6.1" font-weight="bold" font-style="normal" text-anchor="middle" fill="#040c18" stroke="#040c18" stroke-width="0.22">0.26</text>
<text x="1117.36" y="549.02" font-size="6.1" font-weight="bold" font-style="normal" text-anchor="middle" fill="#040c18" stroke="#040c18" stroke-width="0.22">0.32</text>
<text x="1141.80" y="552.22" font-size="8.55" font-weight="bold" font-style="italic" text-anchor="start" fill="#000" stroke="#000" stroke-width="0.18">OLB13</text>
<rect x="976.40" y="553.08" width="7.40" height="9.52" fill="#601996" stroke="#8c8c98" stroke-width="0.5"/>
<rect x="985.50" y="553.08" width="37.68" height="9.52" fill="#457BC3" stroke="#a6a096" stroke-width="0.5"/>
<rect x="1023.17" y="553.08" width="37.68" height="9.52" fill="#457BC3" stroke="#a6a096" stroke-width="0.5"/>
<rect x="1060.85" y="553.08" width="37.68" height="9.52" fill="#4A7FC5" stroke="#a6a096" stroke-width="0.5"/>
<rect x="1098.53" y="553.08" width="37.68" height="9.52" fill="#4A7FC5" stroke="#a6a096" stroke-width="0.5"/>
<text x="1004.34" y="558.55" font-size="6.1" font-weight="bold" font-style="normal" text-anchor="middle" fill="#040c18" stroke="#040c18" stroke-width="0.22">0.19</text>
<text x="1042.01" y="558.55" font-size="6.1" font-weight="bold" font-style="normal" text-anchor="middle" fill="#040c18" stroke="#040c18" stroke-width="0.22">0.19</text>
<text x="1079.69" y="558.55" font-size="6.1" font-weight="bold" font-style="normal" text-anchor="middle" fill="#040c18" stroke="#040c18" stroke-width="0.22">0.21</text>
<text x="1117.36" y="558.55" font-size="6.1" font-weight="bold" font-style="normal" text-anchor="middle" fill="#040c18" stroke="#040c18" stroke-width="0.22">0.26</text>
<text x="1141.80" y="561.75" font-size="8.55" font-weight="bold" font-style="italic" text-anchor="start" fill="#000" stroke="#000" stroke-width="0.18">Planomicrobium</text>
<rect x="976.40" y="562.61" width="7.40" height="9.52" fill="#008B45" stroke="#8c8c98" stroke-width="0.5"/>
<rect x="985.50" y="562.61" width="37.68" height="9.52" fill="#457BC3" stroke="#a6a096" stroke-width="0.5"/>
<rect x="1023.17" y="562.61" width="37.68" height="9.52" fill="#457BC3" stroke="#a6a096" stroke-width="0.5"/>
<rect x="1060.85" y="562.61" width="37.68" height="9.52" fill="#4E83C6" stroke="#a6a096" stroke-width="0.5"/>
<rect x="1098.53" y="562.61" width="37.68" height="9.52" fill="#4A7FC5" stroke="#a6a096" stroke-width="0.5"/>
<text x="1004.34" y="568.07" font-size="6.1" font-weight="bold" font-style="normal" text-anchor="middle" fill="#040c18" stroke="#040c18" stroke-width="0.22">0.02</text>
<text x="1042.01" y="568.07" font-size="6.1" font-weight="bold" font-style="normal" text-anchor="middle" fill="#040c18" stroke="#040c18" stroke-width="0.22">0.14</text>
<text x="1079.69" y="568.07" font-size="6.1" font-weight="bold" font-style="normal" text-anchor="middle" fill="#040c18" stroke="#040c18" stroke-width="0.22">0.58</text>
<text x="1117.36" y="568.07" font-size="6.1" font-weight="bold" font-style="normal" text-anchor="middle" fill="#040c18" stroke="#040c18" stroke-width="0.22">0.27</text>
<text x="1141.80" y="571.27" font-size="8.55" font-weight="bold" font-style="italic" text-anchor="start" fill="#000" stroke="#000" stroke-width="0.18">Sporocytophaga</text>
<rect x="976.40" y="572.13" width="7.40" height="9.52" fill="#EE0000" stroke="#8c8c98" stroke-width="0.5"/>
<rect x="985.50" y="572.13" width="37.68" height="9.52" fill="#457BC3" stroke="#a6a096" stroke-width="0.5"/>
<rect x="1023.17" y="572.13" width="37.68" height="9.52" fill="#457BC3" stroke="#a6a096" stroke-width="0.5"/>
<rect x="1060.85" y="572.13" width="37.68" height="9.52" fill="#4E83C6" stroke="#a6a096" stroke-width="0.5"/>
<rect x="1098.53" y="572.13" width="37.68" height="9.52" fill="#4A7FC5" stroke="#a6a096" stroke-width="0.5"/>
<text x="1004.34" y="577.59" font-size="6.1" font-weight="bold" font-style="normal" text-anchor="middle" fill="#040c18" stroke="#040c18" stroke-width="0.22">0.11</text>
<text x="1042.01" y="577.59" font-size="6.1" font-weight="bold" font-style="normal" text-anchor="middle" fill="#040c18" stroke="#040c18" stroke-width="0.22">0.20</text>
<text x="1079.69" y="577.59" font-size="6.1" font-weight="bold" font-style="normal" text-anchor="middle" fill="#040c18" stroke="#040c18" stroke-width="0.22">0.42</text>
<text x="1117.36" y="577.59" font-size="6.1" font-weight="bold" font-style="normal" text-anchor="middle" fill="#040c18" stroke="#040c18" stroke-width="0.22">0.36</text>
<text x="1141.80" y="580.49" font-size="8.4" font-weight="bold" font-style="normal" text-anchor="start" fill="#000" stroke="#000" stroke-width="0.12">uncultured</text>
<rect x="976.40" y="581.66" width="7.40" height="9.52" fill="#3B4992" stroke="#8c8c98" stroke-width="0.5"/>
<rect x="985.50" y="581.66" width="37.68" height="9.52" fill="#457BC3" stroke="#a6a096" stroke-width="0.5"/>
<rect x="1023.17" y="581.66" width="37.68" height="9.52" fill="#457BC3" stroke="#a6a096" stroke-width="0.5"/>
<rect x="1060.85" y="581.66" width="37.68" height="9.52" fill="#4E83C6" stroke="#a6a096" stroke-width="0.5"/>
<rect x="1098.53" y="581.66" width="37.68" height="9.52" fill="#4A7FC5" stroke="#a6a096" stroke-width="0.5"/>
<text x="1004.34" y="587.12" font-size="6.1" font-weight="bold" font-style="normal" text-anchor="middle" fill="#040c18" stroke="#040c18" stroke-width="0.22">0.17</text>
<text x="1042.01" y="587.12" font-size="6.1" font-weight="bold" font-style="normal" text-anchor="middle" fill="#040c18" stroke="#040c18" stroke-width="0.22">0.20</text>
<text x="1079.69" y="587.12" font-size="6.1" font-weight="bold" font-style="normal" text-anchor="middle" fill="#040c18" stroke="#040c18" stroke-width="0.22">0.46</text>
<text x="1117.36" y="587.12" font-size="6.1" font-weight="bold" font-style="normal" text-anchor="middle" fill="#040c18" stroke="#040c18" stroke-width="0.22">0.22</text>
<text x="1141.80" y="590.32" font-size="8.55" font-weight="bold" font-style="italic" text-anchor="start" fill="#000" stroke="#000" stroke-width="0.18">Xylophilus</text>
<rect x="976.40" y="591.18" width="7.40" height="9.52" fill="#008B45" stroke="#8c8c98" stroke-width="0.5"/>
<rect x="985.50" y="591.18" width="37.68" height="9.52" fill="#4A7FC5" stroke="#a6a096" stroke-width="0.5"/>
<rect x="1023.17" y="591.18" width="37.68" height="9.52" fill="#457BC3" stroke="#a6a096" stroke-width="0.5"/>
<rect x="1060.85" y="591.18" width="37.68" height="9.52" fill="#4A7FC5" stroke="#a6a096" stroke-width="0.5"/>
<rect x="1098.53" y="591.18" width="37.68" height="9.52" fill="#457BC3" stroke="#a6a096" stroke-width="0.5"/>
<text x="1004.34" y="596.64" font-size="6.1" font-weight="bold" font-style="normal" text-anchor="middle" fill="#040c18" stroke="#040c18" stroke-width="0.22">0.24</text>
<text x="1042.01" y="596.64" font-size="6.1" font-weight="bold" font-style="normal" text-anchor="middle" fill="#040c18" stroke="#040c18" stroke-width="0.22">0.03</text>
<text x="1079.69" y="596.64" font-size="6.1" font-weight="bold" font-style="normal" text-anchor="middle" fill="#040c18" stroke="#040c18" stroke-width="0.22">0.39</text>
<text x="1117.36" y="596.64" font-size="6.1" font-weight="bold" font-style="normal" text-anchor="middle" fill="#040c18" stroke="#040c18" stroke-width="0.22">0.17</text>
<text x="1141.80" y="599.84" font-size="8.55" font-weight="bold" font-style="italic" text-anchor="start" fill="#000" stroke="#000" stroke-width="0.18">Dyadobacter</text>
<rect x="976.40" y="600.71" width="7.40" height="9.52" fill="#EE0000" stroke="#8c8c98" stroke-width="0.5"/>
<rect x="985.50" y="600.71" width="37.68" height="9.52" fill="#457BC3" stroke="#a6a096" stroke-width="0.5"/>
<rect x="1023.17" y="600.71" width="37.68" height="9.52" fill="#457BC3" stroke="#a6a096" stroke-width="0.5"/>
<rect x="1060.85" y="600.71" width="37.68" height="9.52" fill="#4A7FC5" stroke="#a6a096" stroke-width="0.5"/>
<rect x="1098.53" y="600.71" width="37.68" height="9.52" fill="#457BC3" stroke="#a6a096" stroke-width="0.5"/>
<text x="1004.34" y="606.17" font-size="6.1" font-weight="bold" font-style="normal" text-anchor="middle" fill="#040c18" stroke="#040c18" stroke-width="0.22">0.19</text>
<text x="1042.01" y="606.17" font-size="6.1" font-weight="bold" font-style="normal" text-anchor="middle" fill="#040c18" stroke="#040c18" stroke-width="0.22">0.04</text>
<text x="1079.69" y="606.17" font-size="6.1" font-weight="bold" font-style="normal" text-anchor="middle" fill="#040c18" stroke="#040c18" stroke-width="0.22">0.29</text>
<text x="1117.36" y="606.17" font-size="6.1" font-weight="bold" font-style="normal" text-anchor="middle" fill="#040c18" stroke="#040c18" stroke-width="0.22">0.20</text>
<text x="1141.80" y="609.37" font-size="8.55" font-weight="bold" font-style="italic" text-anchor="start" fill="#000" stroke="#000" stroke-width="0.18">Paenarthrobacter</text>
<rect x="976.40" y="610.23" width="7.40" height="9.52" fill="#EE0000" stroke="#8c8c98" stroke-width="0.5"/>
<rect x="985.50" y="610.23" width="37.68" height="9.52" fill="#4A7FC5" stroke="#a6a096" stroke-width="0.5"/>
<rect x="1023.17" y="610.23" width="37.68" height="9.52" fill="#457BC3" stroke="#a6a096" stroke-width="0.5"/>
<rect x="1060.85" y="610.23" width="37.68" height="9.52" fill="#4E83C6" stroke="#a6a096" stroke-width="0.5"/>
<rect x="1098.53" y="610.23" width="37.68" height="9.52" fill="#457BC3" stroke="#a6a096" stroke-width="0.5"/>
<text x="1004.34" y="615.69" font-size="6.1" font-weight="bold" font-style="normal" text-anchor="middle" fill="#040c18" stroke="#040c18" stroke-width="0.22">0.38</text>
<text x="1042.01" y="615.69" font-size="6.1" font-weight="bold" font-style="normal" text-anchor="middle" fill="#040c18" stroke="#040c18" stroke-width="0.22">0.18</text>
<text x="1079.69" y="615.69" font-size="6.1" font-weight="bold" font-style="normal" text-anchor="middle" fill="#040c18" stroke="#040c18" stroke-width="0.22">0.44</text>
<text x="1117.36" y="615.69" font-size="6.1" font-weight="bold" font-style="normal" text-anchor="middle" fill="#040c18" stroke="#040c18" stroke-width="0.22">0.15</text>
<text x="1141.80" y="618.89" font-size="8.55" font-weight="bold" font-style="italic" text-anchor="start" fill="#000" stroke="#000" stroke-width="0.18">Rhodococcus</text>
<rect x="976.40" y="619.76" width="7.40" height="9.52" fill="#A6712A" stroke="#8c8c98" stroke-width="0.5"/>
<rect x="985.50" y="619.76" width="37.68" height="9.52" fill="#4A7FC5" stroke="#a6a096" stroke-width="0.5"/>
<rect x="1023.17" y="619.76" width="37.68" height="9.52" fill="#457BC3" stroke="#a6a096" stroke-width="0.5"/>
<rect x="1060.85" y="619.76" width="37.68" height="9.52" fill="#4A7FC5" stroke="#a6a096" stroke-width="0.5"/>
<rect x="1098.53" y="619.76" width="37.68" height="9.52" fill="#457BC3" stroke="#a6a096" stroke-width="0.5"/>
<text x="1004.34" y="625.22" font-size="6.1" font-weight="bold" font-style="normal" text-anchor="middle" fill="#040c18" stroke="#040c18" stroke-width="0.22">0.33</text>
<text x="1042.01" y="625.22" font-size="6.1" font-weight="bold" font-style="normal" text-anchor="middle" fill="#040c18" stroke="#040c18" stroke-width="0.22">0.13</text>
<text x="1079.69" y="625.22" font-size="6.1" font-weight="bold" font-style="normal" text-anchor="middle" fill="#040c18" stroke="#040c18" stroke-width="0.22">0.28</text>
<text x="1117.36" y="625.22" font-size="6.1" font-weight="bold" font-style="normal" text-anchor="middle" fill="#040c18" stroke="#040c18" stroke-width="0.22">0.16</text>
<text x="1141.80" y="628.42" font-size="8.55" font-weight="bold" font-style="italic" text-anchor="start" fill="#000" stroke="#000" stroke-width="0.18">Rokubacteriales</text>
<rect x="976.40" y="629.28" width="7.40" height="9.52" fill="#3B4992" stroke="#8c8c98" stroke-width="0.5"/>
<rect x="985.50" y="629.28" width="37.68" height="9.52" fill="#4A7FC5" stroke="#a6a096" stroke-width="0.5"/>
<rect x="1023.17" y="629.28" width="37.68" height="9.52" fill="#457BC3" stroke="#a6a096" stroke-width="0.5"/>
<rect x="1060.85" y="629.28" width="37.68" height="9.52" fill="#4A7FC5" stroke="#a6a096" stroke-width="0.5"/>
<rect x="1098.53" y="629.28" width="37.68" height="9.52" fill="#457BC3" stroke="#a6a096" stroke-width="0.5"/>
<text x="1004.34" y="634.74" font-size="6.1" font-weight="bold" font-style="normal" text-anchor="middle" fill="#040c18" stroke="#040c18" stroke-width="0.22">0.34</text>
<text x="1042.01" y="634.74" font-size="6.1" font-weight="bold" font-style="normal" text-anchor="middle" fill="#040c18" stroke="#040c18" stroke-width="0.22">0.12</text>
<text x="1079.69" y="634.74" font-size="6.1" font-weight="bold" font-style="normal" text-anchor="middle" fill="#040c18" stroke="#040c18" stroke-width="0.22">0.29</text>
<text x="1117.36" y="634.74" font-size="6.1" font-weight="bold" font-style="normal" text-anchor="middle" fill="#040c18" stroke="#040c18" stroke-width="0.22">0.17</text>
<text x="1141.80" y="637.94" font-size="8.55" font-weight="bold" font-style="italic" text-anchor="start" fill="#000" stroke="#000" stroke-width="0.18">Sphingobium</text>
<rect x="976.40" y="638.81" width="7.40" height="9.52" fill="#EE0000" stroke="#8c8c98" stroke-width="0.5"/>
<rect x="985.50" y="638.81" width="37.68" height="9.52" fill="#457BC3" stroke="#a6a096" stroke-width="0.5"/>
<rect x="1023.17" y="638.81" width="37.68" height="9.52" fill="#72A4D4" stroke="#a6a096" stroke-width="0.5"/>
<rect x="1060.85" y="638.81" width="37.68" height="9.52" fill="#6094CD" stroke="#a6a096" stroke-width="0.5"/>
<rect x="1098.53" y="638.81" width="37.68" height="9.52" fill="#4A7FC5" stroke="#a6a096" stroke-width="0.5"/>
<text x="1004.34" y="644.27" font-size="6.1" font-weight="bold" font-style="normal" text-anchor="middle" fill="#040c18" stroke="#040c18" stroke-width="0.22">0.18</text>
<text x="1042.01" y="644.27" font-size="6.1" font-weight="bold" font-style="normal" text-anchor="middle" fill="#040c18" stroke="#040c18" stroke-width="0.22">2.20</text>
<text x="1079.69" y="644.27" font-size="6.1" font-weight="bold" font-style="normal" text-anchor="middle" fill="#040c18" stroke="#040c18" stroke-width="0.22">1.23</text>
<text x="1117.36" y="644.27" font-size="6.1" font-weight="bold" font-style="normal" text-anchor="middle" fill="#040c18" stroke="#040c18" stroke-width="0.22">0.28</text>
<text x="1141.80" y="647.47" font-size="8.55" font-weight="bold" font-style="italic" text-anchor="start" fill="#000" stroke="#000" stroke-width="0.18">Promicromonospora</text>
<rect x="976.40" y="648.33" width="7.40" height="9.52" fill="#EE0000" stroke="#8c8c98" stroke-width="0.5"/>
<rect x="985.50" y="648.33" width="37.68" height="9.52" fill="#5387C8" stroke="#a6a096" stroke-width="0.5"/>
<rect x="1023.17" y="648.33" width="37.68" height="9.52" fill="#699CD1" stroke="#a6a096" stroke-width="0.5"/>
<rect x="1060.85" y="648.33" width="37.68" height="9.52" fill="#4E83C6" stroke="#a6a096" stroke-width="0.5"/>
<rect x="1098.53" y="648.33" width="37.68" height="9.52" fill="#457BC3" stroke="#a6a096" stroke-width="0.5"/>
<text x="1004.34" y="653.79" font-size="6.1" font-weight="bold" font-style="normal" text-anchor="middle" fill="#040c18" stroke="#040c18" stroke-width="0.22">0.74</text>
<text x="1042.01" y="653.79" font-size="6.1" font-weight="bold" font-style="normal" text-anchor="middle" fill="#040c18" stroke="#040c18" stroke-width="0.22">1.77</text>
<text x="1079.69" y="653.79" font-size="6.1" font-weight="bold" font-style="normal" text-anchor="middle" fill="#040c18" stroke="#040c18" stroke-width="0.22">0.48</text>
<text x="1117.36" y="653.79" font-size="6.1" font-weight="bold" font-style="normal" text-anchor="middle" fill="#040c18" stroke="#040c18" stroke-width="0.22">0.09</text>
<text x="1141.80" y="656.99" font-size="8.55" font-weight="bold" font-style="italic" text-anchor="start" fill="#000" stroke="#000" stroke-width="0.18">Glycomyces</text>
<rect x="976.40" y="657.85" width="7.40" height="9.52" fill="#3B4992" stroke="#8c8c98" stroke-width="0.5"/>
<rect x="985.50" y="657.85" width="37.68" height="9.52" fill="#4E83C6" stroke="#a6a096" stroke-width="0.5"/>
<rect x="1023.17" y="657.85" width="37.68" height="9.52" fill="#6094CD" stroke="#a6a096" stroke-width="0.5"/>
<rect x="1060.85" y="657.85" width="37.68" height="9.52" fill="#578BCA" stroke="#a6a096" stroke-width="0.5"/>
<rect x="1098.53" y="657.85" width="37.68" height="9.52" fill="#457BC3" stroke="#a6a096" stroke-width="0.5"/>
<text x="1004.34" y="663.32" font-size="6.1" font-weight="bold" font-style="normal" text-anchor="middle" fill="#040c18" stroke="#040c18" stroke-width="0.22">0.44</text>
<text x="1042.01" y="663.32" font-size="6.1" font-weight="bold" font-style="normal" text-anchor="middle" fill="#040c18" stroke="#040c18" stroke-width="0.22">1.25</text>
<text x="1079.69" y="663.32" font-size="6.1" font-weight="bold" font-style="normal" text-anchor="middle" fill="#040c18" stroke="#040c18" stroke-width="0.22">0.91</text>
<text x="1117.36" y="663.32" font-size="6.1" font-weight="bold" font-style="normal" text-anchor="middle" fill="#040c18" stroke="#040c18" stroke-width="0.22">0.06</text>
<text x="1141.80" y="666.52" font-size="8.55" font-weight="bold" font-style="italic" text-anchor="start" fill="#000" stroke="#000" stroke-width="0.18">Pseudoxanthomonas</text>
<rect x="976.40" y="667.38" width="7.40" height="9.52" fill="#3B4992" stroke="#8c8c98" stroke-width="0.5"/>
<rect x="985.50" y="667.38" width="37.68" height="9.52" fill="#6EA0D2" stroke="#a6a096" stroke-width="0.5"/>
<rect x="1023.17" y="667.38" width="37.68" height="9.52" fill="#6094CD" stroke="#a6a096" stroke-width="0.5"/>
<rect x="1060.85" y="667.38" width="37.68" height="9.52" fill="#6598CF" stroke="#a6a096" stroke-width="0.5"/>
<rect x="1098.53" y="667.38" width="37.68" height="9.52" fill="#5C90CB" stroke="#a6a096" stroke-width="0.5"/>
<text x="1004.34" y="672.84" font-size="6.1" font-weight="bold" font-style="normal" text-anchor="middle" fill="#040c18" stroke="#040c18" stroke-width="0.22">1.85</text>
<text x="1042.01" y="672.84" font-size="6.1" font-weight="bold" font-style="normal" text-anchor="middle" fill="#040c18" stroke="#040c18" stroke-width="0.22">1.23</text>
<text x="1079.69" y="672.84" font-size="6.1" font-weight="bold" font-style="normal" text-anchor="middle" fill="#040c18" stroke="#040c18" stroke-width="0.22">1.57</text>
<text x="1117.36" y="672.84" font-size="6.1" font-weight="bold" font-style="normal" text-anchor="middle" fill="#040c18" stroke="#040c18" stroke-width="0.22">1.08</text>
<text x="1141.80" y="676.04" font-size="8.55" font-weight="bold" font-style="italic" text-anchor="start" fill="#000" stroke="#000" stroke-width="0.18">Luteimonas</text>
<rect x="976.40" y="676.90" width="7.40" height="9.52" fill="#EE0000" stroke="#8c8c98" stroke-width="0.5"/>
<rect x="985.50" y="676.90" width="37.68" height="9.52" fill="#699CD1" stroke="#a6a096" stroke-width="0.5"/>
<rect x="1023.17" y="676.90" width="37.68" height="9.52" fill="#699CD1" stroke="#a6a096" stroke-width="0.5"/>
<rect x="1060.85" y="676.90" width="37.68" height="9.52" fill="#578BCA" stroke="#a6a096" stroke-width="0.5"/>
<rect x="1098.53" y="676.90" width="37.68" height="9.52" fill="#578BCA" stroke="#a6a096" stroke-width="0.5"/>
<text x="1004.34" y="682.37" font-size="6.1" font-weight="bold" font-style="normal" text-anchor="middle" fill="#040c18" stroke="#040c18" stroke-width="0.22">1.73</text>
<text x="1042.01" y="682.37" font-size="6.1" font-weight="bold" font-style="normal" text-anchor="middle" fill="#040c18" stroke="#040c18" stroke-width="0.22">1.67</text>
<text x="1079.69" y="682.37" font-size="6.1" font-weight="bold" font-style="normal" text-anchor="middle" fill="#040c18" stroke="#040c18" stroke-width="0.22">0.84</text>
<text x="1117.36" y="682.37" font-size="6.1" font-weight="bold" font-style="normal" text-anchor="middle" fill="#040c18" stroke="#040c18" stroke-width="0.22">0.89</text>
<text x="1141.80" y="685.57" font-size="8.55" font-weight="bold" font-style="italic" text-anchor="start" fill="#000" stroke="#000" stroke-width="0.18">Saccharomonospora</text>
<rect x="976.40" y="686.43" width="7.40" height="9.52" fill="#EE0000" stroke="#8c8c98" stroke-width="0.5"/>
<rect x="985.50" y="686.43" width="37.68" height="9.52" fill="#699CD1" stroke="#a6a096" stroke-width="0.5"/>
<rect x="1023.17" y="686.43" width="37.68" height="9.52" fill="#699CD1" stroke="#a6a096" stroke-width="0.5"/>
<rect x="1060.85" y="686.43" width="37.68" height="9.52" fill="#6094CD" stroke="#a6a096" stroke-width="0.5"/>
<rect x="1098.53" y="686.43" width="37.68" height="9.52" fill="#4E83C6" stroke="#a6a096" stroke-width="0.5"/>
<text x="1004.34" y="691.89" font-size="6.1" font-weight="bold" font-style="normal" text-anchor="middle" fill="#040c18" stroke="#040c18" stroke-width="0.22">1.64</text>
<text x="1042.01" y="691.89" font-size="6.1" font-weight="bold" font-style="normal" text-anchor="middle" fill="#040c18" stroke="#040c18" stroke-width="0.22">1.62</text>
<text x="1079.69" y="691.89" font-size="6.1" font-weight="bold" font-style="normal" text-anchor="middle" fill="#040c18" stroke="#040c18" stroke-width="0.22">1.27</text>
<text x="1117.36" y="691.89" font-size="6.1" font-weight="bold" font-style="normal" text-anchor="middle" fill="#040c18" stroke="#040c18" stroke-width="0.22">0.57</text>
<text x="1141.80" y="695.09" font-size="8.55" font-weight="bold" font-style="italic" text-anchor="start" fill="#000" stroke="#000" stroke-width="0.18">Streptomyces</text>
<rect x="976.40" y="695.95" width="7.40" height="9.52" fill="#EE0000" stroke="#8c8c98" stroke-width="0.5"/>
<rect x="985.50" y="695.95" width="37.68" height="9.52" fill="#699CD1" stroke="#a6a096" stroke-width="0.5"/>
<rect x="1023.17" y="695.95" width="37.68" height="9.52" fill="#6094CD" stroke="#a6a096" stroke-width="0.5"/>
<rect x="1060.85" y="695.95" width="37.68" height="9.52" fill="#5C90CB" stroke="#a6a096" stroke-width="0.5"/>
<rect x="1098.53" y="695.95" width="37.68" height="9.52" fill="#578BCA" stroke="#a6a096" stroke-width="0.5"/>
<text x="1004.34" y="701.42" font-size="6.1" font-weight="bold" font-style="normal" text-anchor="middle" fill="#040c18" stroke="#040c18" stroke-width="0.22">1.62</text>
<text x="1042.01" y="701.42" font-size="6.1" font-weight="bold" font-style="normal" text-anchor="middle" fill="#040c18" stroke="#040c18" stroke-width="0.22">1.26</text>
<text x="1079.69" y="701.42" font-size="6.1" font-weight="bold" font-style="normal" text-anchor="middle" fill="#040c18" stroke="#040c18" stroke-width="0.22">1.11</text>
<text x="1117.36" y="701.42" font-size="6.1" font-weight="bold" font-style="normal" text-anchor="middle" fill="#040c18" stroke="#040c18" stroke-width="0.22">0.86</text>
<text x="1141.80" y="704.32" font-size="8.4" font-weight="bold" font-style="normal" text-anchor="start" fill="#000" stroke="#000" stroke-width="0.12">uncultured</text>
<rect x="976.40" y="705.48" width="7.40" height="9.52" fill="#3B4992" stroke="#8c8c98" stroke-width="0.5"/>
<rect x="985.50" y="705.48" width="37.68" height="9.52" fill="#89B9DC" stroke="#a6a096" stroke-width="0.5"/>
<rect x="1023.17" y="705.48" width="37.68" height="9.52" fill="#7CACD7" stroke="#a6a096" stroke-width="0.5"/>
<rect x="1060.85" y="705.48" width="37.68" height="9.52" fill="#578BCA" stroke="#a6a096" stroke-width="0.5"/>
<rect x="1098.53" y="705.48" width="37.68" height="9.52" fill="#5387C8" stroke="#a6a096" stroke-width="0.5"/>
<text x="1004.34" y="710.94" font-size="6.1" font-weight="bold" font-style="normal" text-anchor="middle" fill="#040c18" stroke="#040c18" stroke-width="0.22">3.02</text>
<text x="1042.01" y="710.94" font-size="6.1" font-weight="bold" font-style="normal" text-anchor="middle" fill="#040c18" stroke="#040c18" stroke-width="0.22">2.52</text>
<text x="1079.69" y="710.94" font-size="6.1" font-weight="bold" font-style="normal" text-anchor="middle" fill="#040c18" stroke="#040c18" stroke-width="0.22">0.93</text>
<text x="1117.36" y="710.94" font-size="6.1" font-weight="bold" font-style="normal" text-anchor="middle" fill="#040c18" stroke="#040c18" stroke-width="0.22">0.66</text>
<text x="1141.80" y="714.14" font-size="8.55" font-weight="bold" font-style="italic" text-anchor="start" fill="#000" stroke="#000" stroke-width="0.18">Candidatus_Alysiosphaera</text>
<rect x="976.40" y="715.00" width="7.40" height="9.52" fill="#3B4992" stroke="#8c8c98" stroke-width="0.5"/>
<rect x="985.50" y="715.00" width="37.68" height="9.52" fill="#7CACD7" stroke="#a6a096" stroke-width="0.5"/>
<rect x="1023.17" y="715.00" width="37.68" height="9.52" fill="#6EA0D2" stroke="#a6a096" stroke-width="0.5"/>
<rect x="1060.85" y="715.00" width="37.68" height="9.52" fill="#578BCA" stroke="#a6a096" stroke-width="0.5"/>
<rect x="1098.53" y="715.00" width="37.68" height="9.52" fill="#457BC3" stroke="#a6a096" stroke-width="0.5"/>
<text x="1004.34" y="720.46" font-size="6.1" font-weight="bold" font-style="normal" text-anchor="middle" fill="#040c18" stroke="#040c18" stroke-width="0.22">2.53</text>
<text x="1042.01" y="720.46" font-size="6.1" font-weight="bold" font-style="normal" text-anchor="middle" fill="#040c18" stroke="#040c18" stroke-width="0.22">1.95</text>
<text x="1079.69" y="720.46" font-size="6.1" font-weight="bold" font-style="normal" text-anchor="middle" fill="#040c18" stroke="#040c18" stroke-width="0.22">0.90</text>
<text x="1117.36" y="720.46" font-size="6.1" font-weight="bold" font-style="normal" text-anchor="middle" fill="#040c18" stroke="#040c18" stroke-width="0.22">0.07</text>
<text x="1141.80" y="723.66" font-size="8.55" font-weight="bold" font-style="italic" text-anchor="start" fill="#000" stroke="#000" stroke-width="0.18">Hydrogenophaga</text>
<rect x="976.40" y="724.53" width="7.40" height="9.52" fill="#3B4992" stroke="#8c8c98" stroke-width="0.5"/>
<rect x="985.50" y="724.53" width="37.68" height="9.52" fill="#457BC3" stroke="#a6a096" stroke-width="0.5"/>
<rect x="1023.17" y="724.53" width="37.68" height="9.52" fill="#72A4D4" stroke="#a6a096" stroke-width="0.5"/>
<rect x="1060.85" y="724.53" width="37.68" height="9.52" fill="#EFF9DC" stroke="#a6a096" stroke-width="0.5"/>
<rect x="1098.53" y="724.53" width="37.68" height="9.52" fill="#FEE496" stroke="#a6a096" stroke-width="0.5"/>
<text x="1004.34" y="729.99" font-size="6.1" font-weight="bold" font-style="normal" text-anchor="middle" fill="#040c18" stroke="#040c18" stroke-width="0.22">0.11</text>
<text x="1042.01" y="729.99" font-size="6.1" font-weight="bold" font-style="normal" text-anchor="middle" fill="#040c18" stroke="#040c18" stroke-width="0.22">2.06</text>
<text x="1079.69" y="729.99" font-size="6.1" font-weight="bold" font-style="normal" text-anchor="middle" fill="#040c18" stroke="#040c18" stroke-width="0.22">8.43</text>
<text x="1117.36" y="729.99" font-size="6.1" font-weight="bold" font-style="normal" text-anchor="middle" fill="#040c18" stroke="#040c18" stroke-width="0.22">13.04</text>
<text x="1141.80" y="733.19" font-size="8.55" font-weight="bold" font-style="italic" text-anchor="start" fill="#000" stroke="#000" stroke-width="0.18">[Rhizobium]_sphaerophysae_group</text>
<rect x="976.40" y="734.05" width="7.40" height="9.52" fill="#3B4992" stroke="#8c8c98" stroke-width="0.5"/>
<rect x="985.50" y="734.05" width="37.68" height="9.52" fill="#92C1E0" stroke="#a6a096" stroke-width="0.5"/>
<rect x="1023.17" y="734.05" width="37.68" height="9.52" fill="#9CC7E3" stroke="#a6a096" stroke-width="0.5"/>
<rect x="1060.85" y="734.05" width="37.68" height="9.52" fill="#E4F4F1" stroke="#a6a096" stroke-width="0.5"/>
<rect x="1098.53" y="734.05" width="37.68" height="9.52" fill="#8EBDDE" stroke="#a6a096" stroke-width="0.5"/>
<text x="1004.34" y="739.51" font-size="6.1" font-weight="bold" font-style="normal" text-anchor="middle" fill="#040c18" stroke="#040c18" stroke-width="0.22">3.48</text>
<text x="1042.01" y="739.51" font-size="6.1" font-weight="bold" font-style="normal" text-anchor="middle" fill="#040c18" stroke="#040c18" stroke-width="0.22">3.86</text>
<text x="1079.69" y="739.51" font-size="6.1" font-weight="bold" font-style="normal" text-anchor="middle" fill="#040c18" stroke="#040c18" stroke-width="0.22">7.08</text>
<text x="1117.36" y="739.51" font-size="6.1" font-weight="bold" font-style="normal" text-anchor="middle" fill="#040c18" stroke="#040c18" stroke-width="0.22">3.35</text>
<text x="1144.00" y="742.71" font-size="8.55" font-weight="bold" font-style="italic" text-anchor="start" fill="#000" stroke="#000" stroke-width="0.18">Allorhizobium-Neorhizobium-Pararhizobium-Rhizobium</text>
<rect x="976.40" y="743.58" width="7.40" height="9.52" fill="#3B4992" stroke="#8c8c98" stroke-width="0.5"/>
<rect x="985.50" y="743.58" width="37.68" height="9.52" fill="#699CD1" stroke="#a6a096" stroke-width="0.5"/>
<rect x="1023.17" y="743.58" width="37.68" height="9.52" fill="#B0D3E9" stroke="#a6a096" stroke-width="0.5"/>
<rect x="1060.85" y="743.58" width="37.68" height="9.52" fill="#EFF9DC" stroke="#a6a096" stroke-width="0.5"/>
<rect x="1098.53" y="743.58" width="37.68" height="9.52" fill="#E8F6EA" stroke="#a6a096" stroke-width="0.5"/>
<text x="1004.34" y="749.04" font-size="6.1" font-weight="bold" font-style="normal" text-anchor="middle" fill="#040c18" stroke="#040c18" stroke-width="0.22">1.64</text>
<text x="1042.01" y="749.04" font-size="6.1" font-weight="bold" font-style="normal" text-anchor="middle" fill="#040c18" stroke="#040c18" stroke-width="0.22">4.66</text>
<text x="1079.69" y="749.04" font-size="6.1" font-weight="bold" font-style="normal" text-anchor="middle" fill="#040c18" stroke="#040c18" stroke-width="0.22">8.29</text>
<text x="1117.36" y="749.04" font-size="6.1" font-weight="bold" font-style="normal" text-anchor="middle" fill="#040c18" stroke="#040c18" stroke-width="0.22">7.63</text>
<text x="1141.80" y="752.24" font-size="8.55" font-weight="bold" font-style="italic" text-anchor="start" fill="#000" stroke="#000" stroke-width="0.18">Shinella</text>
<rect x="976.40" y="753.10" width="7.40" height="9.52" fill="#008B45" stroke="#8c8c98" stroke-width="0.5"/>
<rect x="985.50" y="753.10" width="37.68" height="9.52" fill="#4E83C6" stroke="#a6a096" stroke-width="0.5"/>
<rect x="1023.17" y="753.10" width="37.68" height="9.52" fill="#89B9DC" stroke="#a6a096" stroke-width="0.5"/>
<rect x="1060.85" y="753.10" width="37.68" height="9.52" fill="#7CACD7" stroke="#a6a096" stroke-width="0.5"/>
<rect x="1098.53" y="753.10" width="37.68" height="9.52" fill="#EBF7E3" stroke="#a6a096" stroke-width="0.5"/>
<text x="1004.34" y="758.56" font-size="6.1" font-weight="bold" font-style="normal" text-anchor="middle" fill="#040c18" stroke="#040c18" stroke-width="0.22">0.47</text>
<text x="1042.01" y="758.56" font-size="6.1" font-weight="bold" font-style="normal" text-anchor="middle" fill="#040c18" stroke="#040c18" stroke-width="0.22">3.20</text>
<text x="1079.69" y="758.56" font-size="6.1" font-weight="bold" font-style="normal" text-anchor="middle" fill="#040c18" stroke="#040c18" stroke-width="0.22">2.44</text>
<text x="1117.36" y="758.56" font-size="6.1" font-weight="bold" font-style="normal" text-anchor="middle" fill="#040c18" stroke="#040c18" stroke-width="0.22">7.99</text>
<text x="1141.80" y="761.76" font-size="8.55" font-weight="bold" font-style="italic" text-anchor="start" fill="#000" stroke="#000" stroke-width="0.18">Flavobacterium</text>
<rect x="976.40" y="762.63" width="7.40" height="9.52" fill="#3B4992" stroke="#8c8c98" stroke-width="0.5"/>
<rect x="985.50" y="762.63" width="37.68" height="9.52" fill="#5C90CB" stroke="#a6a096" stroke-width="0.5"/>
<rect x="1023.17" y="762.63" width="37.68" height="9.52" fill="#7CACD7" stroke="#a6a096" stroke-width="0.5"/>
<rect x="1060.85" y="762.63" width="37.68" height="9.52" fill="#B4D7EA" stroke="#a6a096" stroke-width="0.5"/>
<rect x="1098.53" y="762.63" width="37.68" height="9.52" fill="#BEDDED" stroke="#a6a096" stroke-width="0.5"/>
<text x="1004.34" y="768.09" font-size="6.1" font-weight="bold" font-style="normal" text-anchor="middle" fill="#040c18" stroke="#040c18" stroke-width="0.22">1.19</text>
<text x="1042.01" y="768.09" font-size="6.1" font-weight="bold" font-style="normal" text-anchor="middle" fill="#040c18" stroke="#040c18" stroke-width="0.22">2.58</text>
<text x="1079.69" y="768.09" font-size="6.1" font-weight="bold" font-style="normal" text-anchor="middle" fill="#040c18" stroke="#040c18" stroke-width="0.22">4.89</text>
<text x="1117.36" y="768.09" font-size="6.1" font-weight="bold" font-style="normal" text-anchor="middle" fill="#040c18" stroke="#040c18" stroke-width="0.22">5.38</text>
<text x="1141.80" y="771.29" font-size="8.55" font-weight="bold" font-style="italic" text-anchor="start" fill="#000" stroke="#000" stroke-width="0.18">Devosia</text>
<rect x="976.40" y="772.15" width="7.40" height="9.52" fill="#EE0000" stroke="#8c8c98" stroke-width="0.5"/>
<rect x="985.50" y="772.15" width="37.68" height="9.52" fill="#457BC3" stroke="#a6a096" stroke-width="0.5"/>
<rect x="1023.17" y="772.15" width="37.68" height="9.52" fill="#80B1D9" stroke="#a6a096" stroke-width="0.5"/>
<rect x="1060.85" y="772.15" width="37.68" height="9.52" fill="#89B9DC" stroke="#a6a096" stroke-width="0.5"/>
<rect x="1098.53" y="772.15" width="37.68" height="9.52" fill="#85B5DB" stroke="#a6a096" stroke-width="0.5"/>
<text x="1004.34" y="777.61" font-size="6.1" font-weight="bold" font-style="normal" text-anchor="middle" fill="#040c18" stroke="#040c18" stroke-width="0.22">0.03</text>
<text x="1042.01" y="777.61" font-size="6.1" font-weight="bold" font-style="normal" text-anchor="middle" fill="#040c18" stroke="#040c18" stroke-width="0.22">2.77</text>
<text x="1079.69" y="777.61" font-size="6.1" font-weight="bold" font-style="normal" text-anchor="middle" fill="#040c18" stroke="#040c18" stroke-width="0.22">3.18</text>
<text x="1117.36" y="777.61" font-size="6.1" font-weight="bold" font-style="normal" text-anchor="middle" fill="#040c18" stroke="#040c18" stroke-width="0.22">2.93</text>
<text x="1141.80" y="780.81" font-size="8.55" font-weight="bold" font-style="italic" text-anchor="start" fill="#000" stroke="#000" stroke-width="0.18">Nocardiopsis</text>
<rect x="976.40" y="781.68" width="7.40" height="9.52" fill="#3B4992" stroke="#8c8c98" stroke-width="0.5"/>
<rect x="985.50" y="781.68" width="37.68" height="9.52" fill="#699CD1" stroke="#a6a096" stroke-width="0.5"/>
<rect x="1023.17" y="781.68" width="37.68" height="9.52" fill="#699CD1" stroke="#a6a096" stroke-width="0.5"/>
<rect x="1060.85" y="781.68" width="37.68" height="9.52" fill="#92C1E0" stroke="#a6a096" stroke-width="0.5"/>
<rect x="1098.53" y="781.68" width="37.68" height="9.52" fill="#80B1D9" stroke="#a6a096" stroke-width="0.5"/>
<text x="1004.34" y="787.14" font-size="6.1" font-weight="bold" font-style="normal" text-anchor="middle" fill="#040c18" stroke="#040c18" stroke-width="0.22">1.75</text>
<text x="1042.01" y="787.14" font-size="6.1" font-weight="bold" font-style="normal" text-anchor="middle" fill="#040c18" stroke="#040c18" stroke-width="0.22">1.68</text>
<text x="1079.69" y="787.14" font-size="6.1" font-weight="bold" font-style="normal" text-anchor="middle" fill="#040c18" stroke="#040c18" stroke-width="0.22">3.54</text>
<text x="1117.36" y="787.14" font-size="6.1" font-weight="bold" font-style="normal" text-anchor="middle" fill="#040c18" stroke="#040c18" stroke-width="0.22">2.71</text>
<text x="1141.80" y="790.34" font-size="8.55" font-weight="bold" font-style="italic" text-anchor="start" fill="#000" stroke="#000" stroke-width="0.18">Novosphingobium</text>
<rect x="985.80" y="67.32" width="149.60" height="47.62" fill="none" stroke="#0a0a14" stroke-width="1.6"/>
<rect x="985.80" y="724.53" width="149.60" height="66.27" fill="none" stroke="#0a0a14" stroke-width="1.6"/>
<text x="1005.60" y="805.60" font-size="9.9" font-weight="bold" font-style="normal" text-anchor="middle" fill="#000" >SA</text>
<text x="1043.80" y="805.60" font-size="9.9" font-weight="bold" font-style="normal" text-anchor="middle" fill="#000" >SAF5</text>
<text x="1081.20" y="805.60" font-size="9.9" font-weight="bold" font-style="normal" text-anchor="middle" fill="#000" >SAF15</text>
<text x="1117.00" y="805.60" font-size="9.9" font-weight="bold" font-style="normal" text-anchor="middle" fill="#000" >SAF25</text>
<text x="963.60" y="804.40" font-size="7.3" font-weight="bold" font-style="normal" text-anchor="start" fill="#000" >Phylum</text>
<path d="M1079.69,57.0 V43.0 H1117.36 V57.0 M1098.53,43.0 V37.5 H1042.01 V57.0 M1070.27,37.5 V22.7 H1004.34 V57.0" fill="none" stroke="#111" stroke-width="1.25"/>
<path d="M969.60,137.00 V468.60 H970.70 M971.40,262.00 V339.00" fill="none" stroke="#5c5c5c" stroke-width="1.7"/>
<path d="M973.20,268.00 L974.20,514.00" fill="none" stroke="#0a0a0a" stroke-width="1.9"/>
<path d="M938.30,62.56 V259.30 M938.30,62.56 H976.20 M938.30,259.30 H951.30 M951.30,72.09 V446.00 M951.30,72.09 H976.20 M951.30,446.00 H956.30 M956.30,150.60 V741.40 M956.30,150.60 H966.80 M956.30,741.40 H961.60 M966.80,89.90 V211.30 M966.80,89.90 H970.30 M966.80,211.30 H969.40 M970.70,468.60 V673.50 M972.90,238.77 H974.60 M972.90,176.86 V262.00 M974.40,253.06 H976.20 M974.40,262.58 H976.20 M974.40,272.11 H976.20 M974.40,281.63 H976.20 M974.40,291.15 H976.20 M974.40,300.68 H976.20 M974.40,310.20 H976.20 M974.40,319.73 H976.20 M974.40,329.25 H976.20 M974.40,338.78 H976.20 M974.40,348.30 H976.20 M974.40,357.83 H976.20 M974.40,367.35 H976.20 M974.40,376.88 H976.20 M974.40,386.40 H976.20 M974.40,395.93 H976.20 M974.40,405.45 H976.20 M974.40,414.98 H976.20 M974.40,424.50 H976.20 M974.40,434.02 H976.20 M974.40,443.55 H976.20 M974.40,453.07 H976.20 M974.40,462.60 H976.20 M974.40,472.12 H976.20 M974.40,481.65 H976.20 M974.40,491.17 H976.20 M974.40,500.70 H976.20 M974.40,510.22 H976.20 M974.30,514.00 V633.00 M974.30,519.75 H976.20 M974.30,529.27 H976.20 M974.30,538.80 H976.20 M974.30,548.32 H976.20 M974.30,557.85 H976.20 M974.30,567.37 H976.20 M974.30,576.89 H976.20 M974.30,586.42 H976.20 M974.30,595.94 H976.20 M974.30,605.47 H976.20 M974.30,614.99 H976.20 M974.30,624.52 H976.20 M974.30,634.04 H976.20 M970.70,648.33 H973.60 M970.70,673.50 H971.60 M972.20,715.00 H973.60 M972.20,680.00 V715.00 M976.20,81.61 H970.30 V98.28 H973.60 M976.20,91.14 H973.60 V105.42 H974.60 M976.20,100.66 H974.60 V110.19 H976.20 M976.20,119.71 H969.40 V139.95 H972.10 M976.20,129.24 H972.10 V150.67 H973.20 M974.60,143.52 H973.20 V157.81 H976.20 M976.20,138.76 H974.60 V148.28 H976.20 M976.20,167.33 H973.40 V189.36 H974.00 M976.20,176.86 H974.00 V201.86 H974.40 M975.20,191.15 H974.40 V212.58 H974.80 M976.20,186.38 H975.20 V195.91 H976.20 M976.20,205.43 H974.80 V219.72 H975.30 M976.20,214.96 H975.30 V224.48 H976.20 M976.20,234.01 H974.60 V243.53 H976.20 M976.20,643.57 H973.60 V653.09 H976.20 M976.20,662.62 H971.60 V682.86 H972.60 M976.20,672.14 H972.60 V693.57 H973.60 M974.40,686.43 H973.60 V700.72 H976.20 M976.20,681.67 H974.40 V691.19 H976.20 M976.20,710.24 H973.60 V719.76 H976.20 M976.20,729.29 H961.60 V754.89 H966.80 M969.40,743.58 H966.80 V766.20 H968.70 M976.20,738.81 H969.40 V748.34 H976.20 M976.20,757.86 H968.70 V774.53 H972.10 M976.20,767.39 H972.10 V781.68 H973.40 M976.20,776.91 H973.40 V786.44 H976.20" fill="none" stroke="#161616" stroke-width="1.15"/>
<text transform="translate(1363.00,132.80) scale(1.04,1)" font-size="13.0" font-weight="bold" font-style="normal" text-anchor="start" fill="#000" >Phylum</text>
<rect x="1363.00" y="148.10" width="14.30" height="13.70" fill="#5F559B" />
<text transform="translate(1386.50,159.60) scale(0.917,1)" font-size="14.8" font-weight="bold" font-style="italic" text-anchor="start" fill="#000" >Acidobacteria</text>
<rect x="1363.00" y="163.55" width="14.30" height="13.70" fill="#EE0000" />
<text transform="translate(1386.50,175.05) scale(0.917,1)" font-size="14.8" font-weight="bold" font-style="italic" text-anchor="start" fill="#000" >Actinobacteria</text>
<rect x="1363.00" y="179.00" width="14.30" height="13.70" fill="#008B45" />
<text transform="translate(1386.50,190.50) scale(0.917,1)" font-size="14.8" font-weight="bold" font-style="italic" text-anchor="start" fill="#000" >Bacteroidetes</text>
<rect x="1363.00" y="194.45" width="14.30" height="13.70" fill="#008280" />
<text transform="translate(1386.50,205.95) scale(0.917,1)" font-size="14.8" font-weight="bold" font-style="italic" text-anchor="start" fill="#000" >Chloroflexi</text>
<rect x="1363.00" y="209.90" width="14.30" height="13.70" fill="#A20056" />
<text transform="translate(1388.00,221.40) scale(0.917,1)" font-size="14.8" font-weight="bold" font-style="italic" text-anchor="start" fill="#000" >Deinococcus-Thermus</text>
<rect x="1363.00" y="225.35" width="14.30" height="13.70" fill="#601996" />
<text transform="translate(1386.50,236.85) scale(0.917,1)" font-size="14.8" font-weight="bold" font-style="italic" text-anchor="start" fill="#000" >Firmicutes</text>
<rect x="1363.00" y="240.80" width="14.30" height="13.70" fill="#BB0021" />
<text transform="translate(1386.50,252.30) scale(0.917,1)" font-size="14.8" font-weight="bold" font-style="italic" text-anchor="start" fill="#000" >Gemmatimonadetes</text>
<rect x="1363.00" y="256.25" width="14.30" height="13.70" fill="#A6712A" />
<text transform="translate(1389.00,267.75) scale(0.917,1)" font-size="14.8" font-weight="bold" font-style="italic" text-anchor="start" fill="#000" >Others</text>
<rect x="1363.00" y="271.70" width="14.30" height="13.70" fill="#3B4992" />
<text transform="translate(1386.50,283.20) scale(0.917,1)" font-size="14.8" font-weight="bold" font-style="italic" text-anchor="start" fill="#000" >Proteobacteria</text>
<rect x="1363.00" y="287.15" width="14.30" height="13.70" fill="#808180" />
<text transform="translate(1386.50,298.65) scale(0.917,1)" font-size="14.8" font-weight="bold" font-style="italic" text-anchor="start" fill="#000" >Verrucomicrobia</text>
<defs><linearGradient id="cb" x1="0" y1="1" x2="0" y2="0"><stop offset="0.0000" stop-color="#457BC3"/><stop offset="0.1667" stop-color="#90BFDF"/><stop offset="0.3333" stop-color="#E0F3F8"/><stop offset="0.5000" stop-color="#FFFFBF"/><stop offset="0.6667" stop-color="#FEE090"/><stop offset="0.8333" stop-color="#FC8D59"/><stop offset="1.0000" stop-color="#DE3127"/></linearGradient></defs>
<rect x="1362.20" y="333.66" width="16.00" height="81.94" fill="url(#cb)" />
<line x1="1362.20" y1="412.30" x2="1365.20" y2="412.30" stroke="#fff" stroke-width="0.7" />
<line x1="1375.20" y1="412.30" x2="1378.20" y2="412.30" stroke="#fff" stroke-width="0.7" />
<text transform="translate(1382.00,419.60) scale(0.985,1)" font-size="13.4" font-weight="bold" font-style="normal" text-anchor="start" fill="#000" >0</text>
<line x1="1362.20" y1="393.38" x2="1365.20" y2="393.38" stroke="#fff" stroke-width="0.7" />
<line x1="1375.20" y1="393.38" x2="1378.20" y2="393.38" stroke="#fff" stroke-width="0.7" />
<text transform="translate(1382.00,400.68) scale(0.985,1)" font-size="13.4" font-weight="bold" font-style="normal" text-anchor="start" fill="#000" >5</text>
<line x1="1362.20" y1="374.45" x2="1365.20" y2="374.45" stroke="#fff" stroke-width="0.7" />
<line x1="1375.20" y1="374.45" x2="1378.20" y2="374.45" stroke="#fff" stroke-width="0.7" />
<text transform="translate(1382.00,381.75) scale(0.985,1)" font-size="13.4" font-weight="bold" font-style="normal" text-anchor="start" fill="#000" >10</text>
<line x1="1362.20" y1="355.53" x2="1365.20" y2="355.53" stroke="#fff" stroke-width="0.7" />
<line x1="1375.20" y1="355.53" x2="1378.20" y2="355.53" stroke="#fff" stroke-width="0.7" />
<text transform="translate(1382.00,362.83) scale(0.985,1)" font-size="13.4" font-weight="bold" font-style="normal" text-anchor="start" fill="#000" >15</text>
<line x1="1362.20" y1="336.60" x2="1365.20" y2="336.60" stroke="#fff" stroke-width="0.7" />
<line x1="1375.20" y1="336.60" x2="1378.20" y2="336.60" stroke="#fff" stroke-width="0.7" />
<text transform="translate(1382.00,343.90) scale(0.985,1)" font-size="13.4" font-weight="bold" font-style="normal" text-anchor="start" fill="#000" >20</text>
</svg>
</body></html>
